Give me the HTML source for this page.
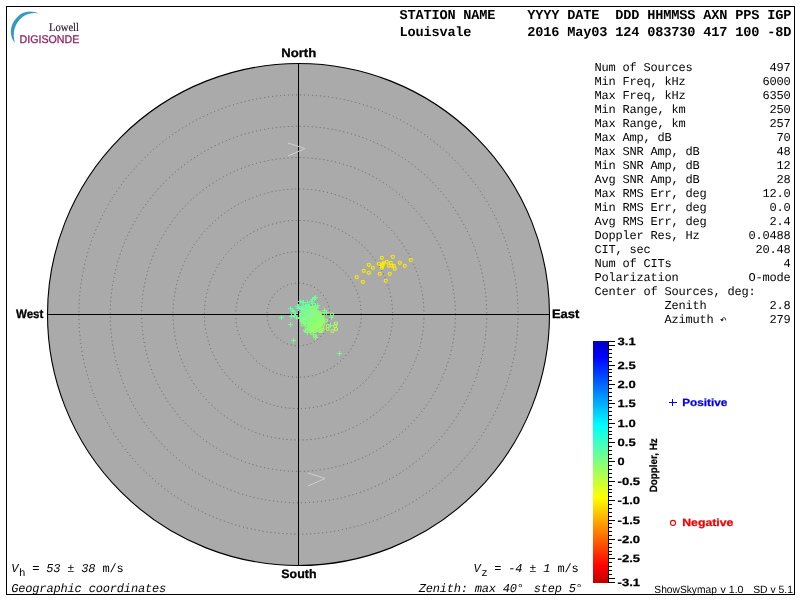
<!DOCTYPE html>
<html><head><meta charset="utf-8"><title>Skymap</title>
<style>html,body{margin:0;padding:0;background:#fff;overflow:hidden}svg{display:block;will-change:transform}
text{font-family:"Liberation Mono",monospace;fill:#000;text-rendering:geometricPrecision}
.hb{font-weight:bold;font-size:13.6px;letter-spacing:-0.16px}
.tb{font-size:12px;letter-spacing:-0.2px}
.it{font-size:12px;letter-spacing:-0.2px;font-style:italic}
.lab{font-family:"Liberation Sans",sans-serif;font-weight:bold;font-size:12.3px;stroke:#000;stroke-width:0.3px}
.cb{font-family:"Liberation Sans",sans-serif;font-weight:bold;font-size:10.5px;stroke:#000;stroke-width:0.25px}
.sm{font-family:"Liberation Sans",sans-serif;font-size:10.5px}
</style></head><body>
<svg width="800" height="600" viewBox="0 0 800 600">
<rect x="0" y="0" width="800" height="600" fill="#fff"/>
<rect x="6.5" y="6.5" width="788" height="588" fill="none" stroke="#000" stroke-width="1"/>
<g id="logo">
<path d="M38.9 13.3 L34.5 12.1 L29.8 11.6 L26 12 L22.8 13 L19.8 14.8 L17.2 17.2 L14.8 20 L13 22.8 L11.6 26.3 L10.9 29.8 L10.9 32.8 L11.25 35.4 L12 38 L13 40.3 L14.75 42.8 L13.7 36.1 L14.05 31.2 L14.7 28.2 L15.8 25.6 L17.3 22.7 L19.3 20 L21.3 17.9 L23.5 16.2 L26.2 14.8 L29.1 13.7 L34 13 Z" fill="#3399c4"/>
<text x="49" y="31.3" style="font-family:'Liberation Serif',serif;font-size:11.6px;fill:#2c1c2a;stroke:#2c1c2a;stroke-width:0.2px" textLength="30" lengthAdjust="spacingAndGlyphs">Lowell</text>
<text x="19.6" y="43.3" style="font-family:'Liberation Sans',sans-serif;font-size:11.2px;fill:#942463;stroke:#942463;stroke-width:0.3px" textLength="59.7" lengthAdjust="spacingAndGlyphs">DIGISONDE</text>
</g>
<circle cx="298.5" cy="314.5" r="251.0" fill="#aaaaaa" stroke="#000" stroke-width="1.1"/>
<circle cx="298.5" cy="314.5" r="31.38" fill="none" stroke="#626262" stroke-width="1" stroke-dasharray="1 3"/>
<circle cx="298.5" cy="314.5" r="62.75" fill="none" stroke="#626262" stroke-width="1" stroke-dasharray="1 3"/>
<circle cx="298.5" cy="314.5" r="94.12" fill="none" stroke="#626262" stroke-width="1" stroke-dasharray="1 3"/>
<circle cx="298.5" cy="314.5" r="125.50" fill="none" stroke="#626262" stroke-width="1" stroke-dasharray="1 3"/>
<circle cx="298.5" cy="314.5" r="156.88" fill="none" stroke="#626262" stroke-width="1" stroke-dasharray="1 3"/>
<circle cx="298.5" cy="314.5" r="188.25" fill="none" stroke="#626262" stroke-width="1" stroke-dasharray="1 3"/>
<circle cx="298.5" cy="314.5" r="219.62" fill="none" stroke="#626262" stroke-width="1" stroke-dasharray="1 3"/>
<line x1="47" y1="314.5" x2="550" y2="314.5" stroke="#000" stroke-width="1" shape-rendering="crispEdges"/>
<line x1="298.5" y1="63" x2="298.5" y2="566" stroke="#000" stroke-width="1" shape-rendering="crispEdges"/>
<circle cx="317.0" cy="330.0" r="1.55" fill="none" stroke="#a1ff5f" stroke-width="1.1"/>
<circle cx="320.5" cy="321.0" r="1.55" fill="none" stroke="#86ff7a" stroke-width="1.1"/>
<circle cx="312.0" cy="320.5" r="1.55" fill="none" stroke="#84ff7c" stroke-width="1.1"/>
<path d="M304 311.5h5M306.5 309v5" stroke="#75ff8b" fill="none" shape-rendering="crispEdges"/>
<circle cx="310.5" cy="309.0" r="1.55" fill="none" stroke="#83ff7d" stroke-width="1.1"/>
<path d="M303 319.5h5M305.5 317v5" stroke="#76ff8a" fill="none" shape-rendering="crispEdges"/>
<circle cx="321.0" cy="323.0" r="1.55" fill="none" stroke="#90ff70" stroke-width="1.1"/>
<path d="M303 307.5h5M305.5 305v5" stroke="#72ff8e" fill="none" shape-rendering="crispEdges"/>
<circle cx="319.0" cy="313.0" r="1.55" fill="none" stroke="#85ff7b" stroke-width="1.1"/>
<circle cx="316.5" cy="314.0" r="1.55" fill="none" stroke="#82ff7e" stroke-width="1.1"/>
<circle cx="313.5" cy="318.5" r="1.55" fill="none" stroke="#84ff7c" stroke-width="1.1"/>
<circle cx="322.0" cy="322.0" r="1.55" fill="none" stroke="#8dff73" stroke-width="1.1"/>
<circle cx="317.5" cy="316.0" r="1.55" fill="none" stroke="#8dff73" stroke-width="1.1"/>
<circle cx="319.0" cy="322.5" r="1.55" fill="none" stroke="#96ff6a" stroke-width="1.1"/>
<path d="M299 314.5h5M301.5 312v5" stroke="#6dff92" fill="none" shape-rendering="crispEdges"/>
<path d="M301 313.5h5M303.5 311v5" stroke="#74ff8c" fill="none" shape-rendering="crispEdges"/>
<circle cx="332.0" cy="314.5" r="1.55" fill="none" stroke="#9eff62" stroke-width="1.1"/>
<path d="M304 306.5h5M306.5 304v5" stroke="#6cff94" fill="none" shape-rendering="crispEdges"/>
<circle cx="308.0" cy="321.5" r="1.55" fill="none" stroke="#81ff7f" stroke-width="1.1"/>
<path d="M302 309.5h5M304.5 307v5" stroke="#6bff95" fill="none" shape-rendering="crispEdges"/>
<circle cx="314.5" cy="311.5" r="1.55" fill="none" stroke="#82ff7e" stroke-width="1.1"/>
<circle cx="317.5" cy="315.0" r="1.55" fill="none" stroke="#8bff75" stroke-width="1.1"/>
<path d="M301 302.5h5M303.5 300v5" stroke="#62ff9e" fill="none" shape-rendering="crispEdges"/>
<path d="M310 303.5h5M312.5 301v5" stroke="#68ff98" fill="none" shape-rendering="crispEdges"/>
<path d="M306 318.5h5M308.5 316v5" stroke="#7cff84" fill="none" shape-rendering="crispEdges"/>
<circle cx="309.5" cy="325.0" r="1.55" fill="none" stroke="#89ff77" stroke-width="1.1"/>
<circle cx="311.0" cy="328.5" r="1.55" fill="none" stroke="#98ff68" stroke-width="1.1"/>
<path d="M306 306.5h5M308.5 304v5" stroke="#6dff93" fill="none" shape-rendering="crispEdges"/>
<circle cx="323.5" cy="320.0" r="1.55" fill="none" stroke="#98ff68" stroke-width="1.1"/>
<circle cx="314.0" cy="317.5" r="1.55" fill="none" stroke="#88ff77" stroke-width="1.1"/>
<circle cx="322.5" cy="329.5" r="1.55" fill="none" stroke="#a3ff5c" stroke-width="1.1"/>
<circle cx="316.0" cy="315.5" r="1.55" fill="none" stroke="#83ff7d" stroke-width="1.1"/>
<circle cx="310.5" cy="322.0" r="1.55" fill="none" stroke="#85ff7b" stroke-width="1.1"/>
<path d="M313 297.5h5M315.5 295v5" stroke="#69ff96" fill="none" shape-rendering="crispEdges"/>
<circle cx="314.0" cy="315.0" r="1.55" fill="none" stroke="#84ff7c" stroke-width="1.1"/>
<circle cx="312.5" cy="322.0" r="1.55" fill="none" stroke="#8bff75" stroke-width="1.1"/>
<path d="M310 306.5h5M312.5 304v5" stroke="#78ff88" fill="none" shape-rendering="crispEdges"/>
<path d="M296 306.5h5M298.5 304v5" stroke="#5fffa0" fill="none" shape-rendering="crispEdges"/>
<path d="M309 314.5h5M311.5 312v5" stroke="#7eff82" fill="none" shape-rendering="crispEdges"/>
<circle cx="315.0" cy="322.0" r="1.55" fill="none" stroke="#93ff6c" stroke-width="1.1"/>
<path d="M311 310.5h5M313.5 308v5" stroke="#7aff86" fill="none" shape-rendering="crispEdges"/>
<path d="M305 317.5h5M307.5 315v5" stroke="#80ff80" fill="none" shape-rendering="crispEdges"/>
<path d="M291 311.5h5M293.5 309v5" stroke="#61ff9f" fill="none" shape-rendering="crispEdges"/>
<path d="M293 313.5h5M295.5 311v5" stroke="#65ff9b" fill="none" shape-rendering="crispEdges"/>
<circle cx="312.5" cy="319.5" r="1.55" fill="none" stroke="#86ff7a" stroke-width="1.1"/>
<circle cx="313.5" cy="318.0" r="1.55" fill="none" stroke="#83ff7d" stroke-width="1.1"/>
<circle cx="311.0" cy="316.0" r="1.55" fill="none" stroke="#81ff7f" stroke-width="1.1"/>
<path d="M311 315.5h5M313.5 313v5" stroke="#7bff85" fill="none" shape-rendering="crispEdges"/>
<circle cx="314.5" cy="320.5" r="1.55" fill="none" stroke="#8fff71" stroke-width="1.1"/>
<circle cx="311.5" cy="326.0" r="1.55" fill="none" stroke="#8dff73" stroke-width="1.1"/>
<path d="M314 307.5h5M316.5 305v5" stroke="#7aff86" fill="none" shape-rendering="crispEdges"/>
<path d="M308 314.5h5M310.5 312v5" stroke="#77ff89" fill="none" shape-rendering="crispEdges"/>
<circle cx="335.0" cy="326.0" r="1.55" fill="none" stroke="#b0ff50" stroke-width="1.1"/>
<circle cx="312.0" cy="326.0" r="1.55" fill="none" stroke="#8bff75" stroke-width="1.1"/>
<path d="M306 308.5h5M308.5 306v5" stroke="#76ff8a" fill="none" shape-rendering="crispEdges"/>
<path d="M300 309.5h5M302.5 307v5" stroke="#6eff92" fill="none" shape-rendering="crispEdges"/>
<circle cx="314.0" cy="321.5" r="1.55" fill="none" stroke="#8bff75" stroke-width="1.1"/>
<circle cx="318.5" cy="314.5" r="1.55" fill="none" stroke="#88ff78" stroke-width="1.1"/>
<circle cx="315.5" cy="313.0" r="1.55" fill="none" stroke="#83ff7d" stroke-width="1.1"/>
<path d="M311 314.5h5M313.5 312v5" stroke="#7eff82" fill="none" shape-rendering="crispEdges"/>
<path d="M312 307.5h5M314.5 305v5" stroke="#77ff89" fill="none" shape-rendering="crispEdges"/>
<circle cx="323.5" cy="324.0" r="1.55" fill="none" stroke="#9aff66" stroke-width="1.1"/>
<circle cx="321.0" cy="322.5" r="1.55" fill="none" stroke="#98ff68" stroke-width="1.1"/>
<circle cx="312.5" cy="317.5" r="1.55" fill="none" stroke="#87ff79" stroke-width="1.1"/>
<circle cx="308.5" cy="320.5" r="1.55" fill="none" stroke="#82ff7e" stroke-width="1.1"/>
<circle cx="313.0" cy="319.5" r="1.55" fill="none" stroke="#8bff75" stroke-width="1.1"/>
<path d="M309 312.5h5M311.5 310v5" stroke="#7bff85" fill="none" shape-rendering="crispEdges"/>
<circle cx="315.0" cy="315.0" r="1.55" fill="none" stroke="#81ff7f" stroke-width="1.1"/>
<circle cx="310.5" cy="318.0" r="1.55" fill="none" stroke="#81ff7f" stroke-width="1.1"/>
<path d="M288 324.5h5M290.5 322v5" stroke="#6dff93" fill="none" shape-rendering="crispEdges"/>
<path d="M299 315.5h5M301.5 313v5" stroke="#77ff89" fill="none" shape-rendering="crispEdges"/>
<path d="M306 315.5h5M308.5 313v5" stroke="#80ff80" fill="none" shape-rendering="crispEdges"/>
<circle cx="321.0" cy="319.5" r="1.55" fill="none" stroke="#96ff69" stroke-width="1.1"/>
<circle cx="314.5" cy="325.0" r="1.55" fill="none" stroke="#8fff71" stroke-width="1.1"/>
<circle cx="328.0" cy="326.0" r="1.55" fill="none" stroke="#a7ff58" stroke-width="1.1"/>
<path d="M305 318.5h5M307.5 316v5" stroke="#7dff83" fill="none" shape-rendering="crispEdges"/>
<circle cx="313.0" cy="312.0" r="1.55" fill="none" stroke="#88ff78" stroke-width="1.1"/>
<path d="M306 318.5h5M308.5 316v5" stroke="#7bff85" fill="none" shape-rendering="crispEdges"/>
<path d="M302 322.5h5M304.5 320v5" stroke="#79ff87" fill="none" shape-rendering="crispEdges"/>
<circle cx="315.5" cy="311.5" r="1.55" fill="none" stroke="#83ff7d" stroke-width="1.1"/>
<path d="M305 302.5h5M307.5 300v5" stroke="#64ff9c" fill="none" shape-rendering="crispEdges"/>
<path d="M298 301.5h5M300.5 299v5" stroke="#5dffa2" fill="none" shape-rendering="crispEdges"/>
<circle cx="312.5" cy="313.0" r="1.55" fill="none" stroke="#80ff80" stroke-width="1.1"/>
<circle cx="314.0" cy="314.5" r="1.55" fill="none" stroke="#86ff7a" stroke-width="1.1"/>
<path d="M298 317.5h5M300.5 315v5" stroke="#70ff90" fill="none" shape-rendering="crispEdges"/>
<circle cx="319.5" cy="317.0" r="1.55" fill="none" stroke="#8eff72" stroke-width="1.1"/>
<path d="M299 315.5h5M301.5 313v5" stroke="#76ff8a" fill="none" shape-rendering="crispEdges"/>
<path d="M308 316.5h5M310.5 314v5" stroke="#7eff82" fill="none" shape-rendering="crispEdges"/>
<circle cx="313.0" cy="317.5" r="1.55" fill="none" stroke="#85ff7b" stroke-width="1.1"/>
<circle cx="306.0" cy="331.0" r="1.55" fill="none" stroke="#93ff6d" stroke-width="1.1"/>
<circle cx="317.5" cy="323.5" r="1.55" fill="none" stroke="#99ff67" stroke-width="1.1"/>
<circle cx="311.5" cy="329.0" r="1.55" fill="none" stroke="#93ff6d" stroke-width="1.1"/>
<circle cx="320.0" cy="331.0" r="1.55" fill="none" stroke="#9bff65" stroke-width="1.1"/>
<circle cx="302.0" cy="321.5" r="1.55" fill="none" stroke="#8aff76" stroke-width="1.1"/>
<circle cx="310.5" cy="317.0" r="1.55" fill="none" stroke="#8dff73" stroke-width="1.1"/>
<path d="M306 316.5h5M308.5 314v5" stroke="#7dff83" fill="none" shape-rendering="crispEdges"/>
<circle cx="309.0" cy="315.0" r="1.55" fill="none" stroke="#80ff80" stroke-width="1.1"/>
<path d="M303 310.5h5M305.5 308v5" stroke="#72ff8e" fill="none" shape-rendering="crispEdges"/>
<circle cx="315.5" cy="316.5" r="1.55" fill="none" stroke="#85ff7b" stroke-width="1.1"/>
<path d="M302 318.5h5M304.5 316v5" stroke="#76ff8a" fill="none" shape-rendering="crispEdges"/>
<path d="M313 311.5h5M315.5 309v5" stroke="#78ff88" fill="none" shape-rendering="crispEdges"/>
<path d="M307 315.5h5M309.5 313v5" stroke="#79ff87" fill="none" shape-rendering="crispEdges"/>
<circle cx="314.5" cy="322.0" r="1.55" fill="none" stroke="#8bff75" stroke-width="1.1"/>
<circle cx="308.0" cy="317.5" r="1.55" fill="none" stroke="#82ff7e" stroke-width="1.1"/>
<circle cx="313.5" cy="311.0" r="1.55" fill="none" stroke="#83ff7d" stroke-width="1.1"/>
<circle cx="315.0" cy="318.0" r="1.55" fill="none" stroke="#84ff7c" stroke-width="1.1"/>
<circle cx="323.0" cy="314.0" r="1.55" fill="none" stroke="#97ff69" stroke-width="1.1"/>
<circle cx="327.5" cy="329.0" r="1.55" fill="none" stroke="#aaff55" stroke-width="1.1"/>
<circle cx="315.0" cy="330.5" r="1.55" fill="none" stroke="#96ff6a" stroke-width="1.1"/>
<path d="M308 314.5h5M310.5 312v5" stroke="#7dff83" fill="none" shape-rendering="crispEdges"/>
<path d="M302 317.5h5M304.5 315v5" stroke="#6dff92" fill="none" shape-rendering="crispEdges"/>
<path d="M311 314.5h5M313.5 312v5" stroke="#7cff84" fill="none" shape-rendering="crispEdges"/>
<path d="M307 315.5h5M309.5 313v5" stroke="#78ff88" fill="none" shape-rendering="crispEdges"/>
<path d="M307 313.5h5M309.5 311v5" stroke="#7aff86" fill="none" shape-rendering="crispEdges"/>
<circle cx="311.5" cy="317.0" r="1.55" fill="none" stroke="#84ff7c" stroke-width="1.1"/>
<path d="M307 318.5h5M309.5 316v5" stroke="#7fff81" fill="none" shape-rendering="crispEdges"/>
<circle cx="316.0" cy="324.5" r="1.55" fill="none" stroke="#91ff6f" stroke-width="1.1"/>
<circle cx="316.5" cy="323.5" r="1.55" fill="none" stroke="#93ff6d" stroke-width="1.1"/>
<circle cx="315.0" cy="322.5" r="1.55" fill="none" stroke="#81ff7f" stroke-width="1.1"/>
<circle cx="309.0" cy="322.0" r="1.55" fill="none" stroke="#8dff72" stroke-width="1.1"/>
<path d="M308 319.5h5M310.5 317v5" stroke="#7dff83" fill="none" shape-rendering="crispEdges"/>
<circle cx="315.5" cy="319.5" r="1.55" fill="none" stroke="#91ff6f" stroke-width="1.1"/>
<circle cx="312.0" cy="314.5" r="1.55" fill="none" stroke="#8aff76" stroke-width="1.1"/>
<path d="M304 317.5h5M306.5 315v5" stroke="#7fff81" fill="none" shape-rendering="crispEdges"/>
<circle cx="319.5" cy="313.0" r="1.55" fill="none" stroke="#87ff79" stroke-width="1.1"/>
<path d="M306 318.5h5M308.5 316v5" stroke="#7eff82" fill="none" shape-rendering="crispEdges"/>
<path d="M313 337.5h5M315.5 335v5" stroke="#76ff8a" fill="none" shape-rendering="crispEdges"/>
<circle cx="315.5" cy="320.5" r="1.55" fill="none" stroke="#90ff70" stroke-width="1.1"/>
<circle cx="311.0" cy="320.5" r="1.55" fill="none" stroke="#83ff7d" stroke-width="1.1"/>
<path d="M295 306.5h5M297.5 304v5" stroke="#5fffa0" fill="none" shape-rendering="crispEdges"/>
<circle cx="320.0" cy="321.5" r="1.55" fill="none" stroke="#93ff6d" stroke-width="1.1"/>
<path d="M312 298.5h5M314.5 296v5" stroke="#69ff96" fill="none" shape-rendering="crispEdges"/>
<path d="M310 299.5h5M312.5 297v5" stroke="#69ff96" fill="none" shape-rendering="crispEdges"/>
<path d="M309 315.5h5M311.5 313v5" stroke="#7eff82" fill="none" shape-rendering="crispEdges"/>
<path d="M292 315.5h5M294.5 313v5" stroke="#6dff93" fill="none" shape-rendering="crispEdges"/>
<circle cx="315.5" cy="322.5" r="1.55" fill="none" stroke="#80ff80" stroke-width="1.1"/>
<circle cx="309.5" cy="319.5" r="1.55" fill="none" stroke="#88ff78" stroke-width="1.1"/>
<circle cx="313.0" cy="324.0" r="1.55" fill="none" stroke="#90ff70" stroke-width="1.1"/>
<circle cx="312.5" cy="314.5" r="1.55" fill="none" stroke="#84ff7c" stroke-width="1.1"/>
<path d="M288 308.5h5M290.5 306v5" stroke="#5affa6" fill="none" shape-rendering="crispEdges"/>
<circle cx="312.0" cy="333.0" r="1.55" fill="none" stroke="#9dff63" stroke-width="1.1"/>
<circle cx="319.5" cy="323.5" r="1.55" fill="none" stroke="#95ff6b" stroke-width="1.1"/>
<circle cx="321.0" cy="319.0" r="1.55" fill="none" stroke="#96ff6a" stroke-width="1.1"/>
<path d="M304 312.5h5M306.5 310v5" stroke="#70ff90" fill="none" shape-rendering="crispEdges"/>
<path d="M306 311.5h5M308.5 309v5" stroke="#7aff86" fill="none" shape-rendering="crispEdges"/>
<circle cx="311.5" cy="318.0" r="1.55" fill="none" stroke="#89ff76" stroke-width="1.1"/>
<circle cx="315.0" cy="318.5" r="1.55" fill="none" stroke="#89ff77" stroke-width="1.1"/>
<circle cx="314.0" cy="317.0" r="1.55" fill="none" stroke="#85ff7b" stroke-width="1.1"/>
<path d="M307 306.5h5M309.5 304v5" stroke="#79ff87" fill="none" shape-rendering="crispEdges"/>
<circle cx="317.0" cy="321.5" r="1.55" fill="none" stroke="#92ff6e" stroke-width="1.1"/>
<circle cx="312.0" cy="320.0" r="1.55" fill="none" stroke="#87ff79" stroke-width="1.1"/>
<circle cx="313.0" cy="320.0" r="1.55" fill="none" stroke="#87ff79" stroke-width="1.1"/>
<path d="M305 318.5h5M307.5 316v5" stroke="#7fff81" fill="none" shape-rendering="crispEdges"/>
<circle cx="311.0" cy="316.5" r="1.55" fill="none" stroke="#85ff7a" stroke-width="1.1"/>
<path d="M313 316.5h5M315.5 314v5" stroke="#7cff84" fill="none" shape-rendering="crispEdges"/>
<path d="M299 317.5h5M301.5 315v5" stroke="#76ff8a" fill="none" shape-rendering="crispEdges"/>
<circle cx="321.0" cy="323.5" r="1.55" fill="none" stroke="#96ff69" stroke-width="1.1"/>
<path d="M304 309.5h5M306.5 307v5" stroke="#6eff92" fill="none" shape-rendering="crispEdges"/>
<circle cx="315.5" cy="323.5" r="1.55" fill="none" stroke="#8eff72" stroke-width="1.1"/>
<circle cx="336.0" cy="329.0" r="1.55" fill="none" stroke="#b5ff4b" stroke-width="1.1"/>
<circle cx="322.0" cy="327.5" r="1.55" fill="none" stroke="#9eff62" stroke-width="1.1"/>
<circle cx="315.0" cy="336.0" r="1.55" fill="none" stroke="#a4ff5c" stroke-width="1.1"/>
<circle cx="311.5" cy="317.5" r="1.55" fill="none" stroke="#8cff74" stroke-width="1.1"/>
<circle cx="314.5" cy="321.0" r="1.55" fill="none" stroke="#8bff75" stroke-width="1.1"/>
<circle cx="310.0" cy="317.5" r="1.55" fill="none" stroke="#83ff7d" stroke-width="1.1"/>
<circle cx="316.0" cy="311.5" r="1.55" fill="none" stroke="#86ff7a" stroke-width="1.1"/>
<path d="M302 311.5h5M304.5 309v5" stroke="#70ff90" fill="none" shape-rendering="crispEdges"/>
<path d="M301 308.5h5M303.5 306v5" stroke="#6aff96" fill="none" shape-rendering="crispEdges"/>
<path d="M306 309.5h5M308.5 307v5" stroke="#6dff93" fill="none" shape-rendering="crispEdges"/>
<circle cx="314.0" cy="327.0" r="1.55" fill="none" stroke="#8fff71" stroke-width="1.1"/>
<circle cx="315.5" cy="320.0" r="1.55" fill="none" stroke="#8bff75" stroke-width="1.1"/>
<path d="M304 319.5h5M306.5 317v5" stroke="#7cff84" fill="none" shape-rendering="crispEdges"/>
<circle cx="307.0" cy="329.5" r="1.55" fill="none" stroke="#82ff7e" stroke-width="1.1"/>
<path d="M304 311.5h5M306.5 309v5" stroke="#71ff8f" fill="none" shape-rendering="crispEdges"/>
<circle cx="312.0" cy="321.5" r="1.55" fill="none" stroke="#8bff75" stroke-width="1.1"/>
<path d="M303 310.5h5M305.5 308v5" stroke="#6eff92" fill="none" shape-rendering="crispEdges"/>
<circle cx="321.5" cy="321.0" r="1.55" fill="none" stroke="#94ff6c" stroke-width="1.1"/>
<path d="M306 313.5h5M308.5 311v5" stroke="#7aff86" fill="none" shape-rendering="crispEdges"/>
<path d="M299 307.5h5M301.5 305v5" stroke="#6cff94" fill="none" shape-rendering="crispEdges"/>
<circle cx="319.0" cy="326.0" r="1.55" fill="none" stroke="#8eff72" stroke-width="1.1"/>
<path d="M303 305.5h5M305.5 303v5" stroke="#6bff95" fill="none" shape-rendering="crispEdges"/>
<path d="M291 340.5h5M293.5 338v5" stroke="#76ff8a" fill="none" shape-rendering="crispEdges"/>
<path d="M305 315.5h5M307.5 313v5" stroke="#7eff82" fill="none" shape-rendering="crispEdges"/>
<circle cx="318.0" cy="319.5" r="1.55" fill="none" stroke="#8eff72" stroke-width="1.1"/>
<circle cx="316.5" cy="313.5" r="1.55" fill="none" stroke="#82ff7e" stroke-width="1.1"/>
<circle cx="309.5" cy="325.5" r="1.55" fill="none" stroke="#8aff76" stroke-width="1.1"/>
<path d="M306 318.5h5M308.5 316v5" stroke="#7bff85" fill="none" shape-rendering="crispEdges"/>
<circle cx="319.5" cy="325.0" r="1.55" fill="none" stroke="#97ff69" stroke-width="1.1"/>
<circle cx="314.0" cy="319.5" r="1.55" fill="none" stroke="#85ff7b" stroke-width="1.1"/>
<path d="M305 312.5h5M307.5 310v5" stroke="#75ff8b" fill="none" shape-rendering="crispEdges"/>
<circle cx="312.5" cy="323.5" r="1.55" fill="none" stroke="#8dff73" stroke-width="1.1"/>
<path d="M299 308.5h5M301.5 306v5" stroke="#6dff93" fill="none" shape-rendering="crispEdges"/>
<path d="M302 314.5h5M304.5 312v5" stroke="#7dff83" fill="none" shape-rendering="crispEdges"/>
<circle cx="316.5" cy="321.0" r="1.55" fill="none" stroke="#8aff75" stroke-width="1.1"/>
<path d="M306 313.5h5M308.5 311v5" stroke="#78ff88" fill="none" shape-rendering="crispEdges"/>
<path d="M301 311.5h5M303.5 309v5" stroke="#70ff90" fill="none" shape-rendering="crispEdges"/>
<path d="M309 317.5h5M311.5 315v5" stroke="#7cff84" fill="none" shape-rendering="crispEdges"/>
<path d="M302 310.5h5M304.5 308v5" stroke="#72ff8d" fill="none" shape-rendering="crispEdges"/>
<path d="M300 315.5h5M302.5 313v5" stroke="#74ff8c" fill="none" shape-rendering="crispEdges"/>
<circle cx="315.5" cy="321.5" r="1.55" fill="none" stroke="#8eff72" stroke-width="1.1"/>
<circle cx="311.0" cy="321.0" r="1.55" fill="none" stroke="#8bff75" stroke-width="1.1"/>
<circle cx="315.0" cy="320.5" r="1.55" fill="none" stroke="#92ff6e" stroke-width="1.1"/>
<path d="M302 323.5h5M304.5 321v5" stroke="#76ff8a" fill="none" shape-rendering="crispEdges"/>
<path d="M311 308.5h5M313.5 306v5" stroke="#79ff87" fill="none" shape-rendering="crispEdges"/>
<circle cx="317.0" cy="317.0" r="1.55" fill="none" stroke="#83ff7d" stroke-width="1.1"/>
<circle cx="318.0" cy="318.5" r="1.55" fill="none" stroke="#86ff7a" stroke-width="1.1"/>
<circle cx="308.5" cy="322.5" r="1.55" fill="none" stroke="#84ff7b" stroke-width="1.1"/>
<circle cx="310.0" cy="323.5" r="1.55" fill="none" stroke="#91ff6f" stroke-width="1.1"/>
<circle cx="313.5" cy="316.5" r="1.55" fill="none" stroke="#84ff7c" stroke-width="1.1"/>
<path d="M303 318.5h5M305.5 316v5" stroke="#7dff83" fill="none" shape-rendering="crispEdges"/>
<path d="M301 318.5h5M303.5 316v5" stroke="#7fff81" fill="none" shape-rendering="crispEdges"/>
<circle cx="313.5" cy="314.0" r="1.55" fill="none" stroke="#81ff7f" stroke-width="1.1"/>
<path d="M337 353.5h5M339.5 351v5" stroke="#76ff8a" fill="none" shape-rendering="crispEdges"/>
<circle cx="313.5" cy="320.5" r="1.55" fill="none" stroke="#89ff77" stroke-width="1.1"/>
<path d="M302 308.5h5M304.5 306v5" stroke="#6fff91" fill="none" shape-rendering="crispEdges"/>
<circle cx="309.0" cy="318.0" r="1.55" fill="none" stroke="#80ff80" stroke-width="1.1"/>
<path d="M301 316.5h5M303.5 314v5" stroke="#74ff8c" fill="none" shape-rendering="crispEdges"/>
<circle cx="317.0" cy="313.5" r="1.55" fill="none" stroke="#88ff78" stroke-width="1.1"/>
<path d="M306 313.5h5M308.5 311v5" stroke="#79ff87" fill="none" shape-rendering="crispEdges"/>
<circle cx="308.5" cy="323.0" r="1.55" fill="none" stroke="#87ff79" stroke-width="1.1"/>
<path d="M304 315.5h5M306.5 313v5" stroke="#7cff84" fill="none" shape-rendering="crispEdges"/>
<path d="M307 315.5h5M309.5 313v5" stroke="#7eff82" fill="none" shape-rendering="crispEdges"/>
<circle cx="317.5" cy="318.0" r="1.55" fill="none" stroke="#8dff73" stroke-width="1.1"/>
<circle cx="317.5" cy="316.0" r="1.55" fill="none" stroke="#85ff7b" stroke-width="1.1"/>
<path d="M308 313.5h5M310.5 311v5" stroke="#7eff82" fill="none" shape-rendering="crispEdges"/>
<path d="M304 311.5h5M306.5 309v5" stroke="#6eff92" fill="none" shape-rendering="crispEdges"/>
<path d="M300 313.5h5M302.5 311v5" stroke="#76ff8a" fill="none" shape-rendering="crispEdges"/>
<path d="M306 310.5h5M308.5 308v5" stroke="#75ff8b" fill="none" shape-rendering="crispEdges"/>
<path d="M310 319.5h5M312.5 317v5" stroke="#7fff81" fill="none" shape-rendering="crispEdges"/>
<circle cx="313.5" cy="320.5" r="1.55" fill="none" stroke="#87ff79" stroke-width="1.1"/>
<circle cx="319.5" cy="323.0" r="1.55" fill="none" stroke="#94ff6c" stroke-width="1.1"/>
<circle cx="309.0" cy="319.0" r="1.55" fill="none" stroke="#85ff7b" stroke-width="1.1"/>
<circle cx="318.5" cy="323.0" r="1.55" fill="none" stroke="#8eff72" stroke-width="1.1"/>
<circle cx="311.5" cy="317.0" r="1.55" fill="none" stroke="#88ff77" stroke-width="1.1"/>
<path d="M303 316.5h5M305.5 314v5" stroke="#7cff84" fill="none" shape-rendering="crispEdges"/>
<circle cx="315.0" cy="316.0" r="1.55" fill="none" stroke="#83ff7d" stroke-width="1.1"/>
<path d="M301 317.5h5M303.5 315v5" stroke="#79ff87" fill="none" shape-rendering="crispEdges"/>
<circle cx="317.5" cy="314.0" r="1.55" fill="none" stroke="#8bff74" stroke-width="1.1"/>
<path d="M306 312.5h5M308.5 310v5" stroke="#77ff89" fill="none" shape-rendering="crispEdges"/>
<path d="M304 314.5h5M306.5 312v5" stroke="#7cff84" fill="none" shape-rendering="crispEdges"/>
<path d="M314 307.5h5M316.5 305v5" stroke="#79ff87" fill="none" shape-rendering="crispEdges"/>
<path d="M309 314.5h5M311.5 312v5" stroke="#80ff80" fill="none" shape-rendering="crispEdges"/>
<circle cx="310.5" cy="317.0" r="1.55" fill="none" stroke="#81ff7f" stroke-width="1.1"/>
<circle cx="313.5" cy="316.5" r="1.55" fill="none" stroke="#84ff7c" stroke-width="1.1"/>
<circle cx="308.5" cy="317.0" r="1.55" fill="none" stroke="#80ff80" stroke-width="1.1"/>
<circle cx="318.5" cy="314.0" r="1.55" fill="none" stroke="#85ff7b" stroke-width="1.1"/>
<path d="M308 315.5h5M310.5 313v5" stroke="#7eff82" fill="none" shape-rendering="crispEdges"/>
<path d="M303 330.5h5M305.5 328v5" stroke="#76ff8a" fill="none" shape-rendering="crispEdges"/>
<path d="M294 317.5h5M296.5 315v5" stroke="#6cff94" fill="none" shape-rendering="crispEdges"/>
<circle cx="320.5" cy="330.0" r="1.55" fill="none" stroke="#a0ff5f" stroke-width="1.1"/>
<path d="M309 308.5h5M311.5 306v5" stroke="#73ff8d" fill="none" shape-rendering="crispEdges"/>
<path d="M309 315.5h5M311.5 313v5" stroke="#7cff84" fill="none" shape-rendering="crispEdges"/>
<path d="M302 309.5h5M304.5 307v5" stroke="#77ff89" fill="none" shape-rendering="crispEdges"/>
<circle cx="317.5" cy="319.0" r="1.55" fill="none" stroke="#8eff72" stroke-width="1.1"/>
<circle cx="314.0" cy="322.5" r="1.55" fill="none" stroke="#91ff6f" stroke-width="1.1"/>
<circle cx="318.0" cy="325.5" r="1.55" fill="none" stroke="#96ff6a" stroke-width="1.1"/>
<path d="M279 317.5h5M281.5 315v5" stroke="#5affa6" fill="none" shape-rendering="crispEdges"/>
<circle cx="311.0" cy="325.5" r="1.55" fill="none" stroke="#8aff76" stroke-width="1.1"/>
<circle cx="314.5" cy="317.0" r="1.55" fill="none" stroke="#87ff79" stroke-width="1.1"/>
<circle cx="309.5" cy="318.5" r="1.55" fill="none" stroke="#8cff74" stroke-width="1.1"/>
<circle cx="311.0" cy="322.5" r="1.55" fill="none" stroke="#86ff7a" stroke-width="1.1"/>
<path d="M310 317.5h5M312.5 315v5" stroke="#7cff84" fill="none" shape-rendering="crispEdges"/>
<circle cx="312.5" cy="325.0" r="1.55" fill="none" stroke="#94ff6c" stroke-width="1.1"/>
<circle cx="313.0" cy="318.0" r="1.55" fill="none" stroke="#8eff72" stroke-width="1.1"/>
<path d="M308 311.5h5M310.5 309v5" stroke="#7bff85" fill="none" shape-rendering="crispEdges"/>
<circle cx="309.0" cy="319.5" r="1.55" fill="none" stroke="#81ff7f" stroke-width="1.1"/>
<circle cx="315.5" cy="326.5" r="1.55" fill="none" stroke="#93ff6d" stroke-width="1.1"/>
<circle cx="316.5" cy="313.0" r="1.55" fill="none" stroke="#82ff7e" stroke-width="1.1"/>
<circle cx="306.5" cy="327.5" r="1.55" fill="none" stroke="#86ff7a" stroke-width="1.1"/>
<path d="M305 305.5h5M307.5 303v5" stroke="#66ff9a" fill="none" shape-rendering="crispEdges"/>
<circle cx="316.5" cy="318.5" r="1.55" fill="none" stroke="#92ff6e" stroke-width="1.1"/>
<circle cx="322.5" cy="317.5" r="1.55" fill="none" stroke="#98ff68" stroke-width="1.1"/>
<path d="M299 307.5h5M301.5 305v5" stroke="#69ff97" fill="none" shape-rendering="crispEdges"/>
<path d="M308 316.5h5M310.5 314v5" stroke="#7fff81" fill="none" shape-rendering="crispEdges"/>
<path d="M303 313.5h5M305.5 311v5" stroke="#7bff85" fill="none" shape-rendering="crispEdges"/>
<path d="M304 317.5h5M306.5 315v5" stroke="#73ff8d" fill="none" shape-rendering="crispEdges"/>
<circle cx="307.0" cy="313.0" r="1.55" fill="none" stroke="#81ff7f" stroke-width="1.1"/>
<circle cx="309.5" cy="319.5" r="1.55" fill="none" stroke="#82ff7e" stroke-width="1.1"/>
<circle cx="311.0" cy="317.0" r="1.55" fill="none" stroke="#82ff7e" stroke-width="1.1"/>
<path d="M305 317.5h5M307.5 315v5" stroke="#7bff85" fill="none" shape-rendering="crispEdges"/>
<path d="M306 309.5h5M308.5 307v5" stroke="#6eff92" fill="none" shape-rendering="crispEdges"/>
<circle cx="313.5" cy="326.5" r="1.55" fill="none" stroke="#94ff6c" stroke-width="1.1"/>
<path d="M301 315.5h5M303.5 313v5" stroke="#6cff94" fill="none" shape-rendering="crispEdges"/>
<path d="M304 316.5h5M306.5 314v5" stroke="#78ff88" fill="none" shape-rendering="crispEdges"/>
<circle cx="319.5" cy="328.5" r="1.55" fill="none" stroke="#96ff69" stroke-width="1.1"/>
<circle cx="314.0" cy="320.5" r="1.55" fill="none" stroke="#97ff69" stroke-width="1.1"/>
<circle cx="315.0" cy="320.0" r="1.55" fill="none" stroke="#8aff76" stroke-width="1.1"/>
<circle cx="316.5" cy="326.0" r="1.55" fill="none" stroke="#98ff68" stroke-width="1.1"/>
<circle cx="314.0" cy="313.5" r="1.55" fill="none" stroke="#81ff7f" stroke-width="1.1"/>
<path d="M300 320.5h5M302.5 318v5" stroke="#7dff83" fill="none" shape-rendering="crispEdges"/>
<circle cx="313.5" cy="315.0" r="1.55" fill="none" stroke="#82ff7e" stroke-width="1.1"/>
<path d="M304 307.5h5M306.5 305v5" stroke="#77ff89" fill="none" shape-rendering="crispEdges"/>
<circle cx="316.0" cy="322.0" r="1.55" fill="none" stroke="#8dff73" stroke-width="1.1"/>
<circle cx="313.5" cy="321.0" r="1.55" fill="none" stroke="#95ff6b" stroke-width="1.1"/>
<path d="M313 305.5h5M315.5 303v5" stroke="#72ff8d" fill="none" shape-rendering="crispEdges"/>
<circle cx="318.0" cy="321.0" r="1.55" fill="none" stroke="#91ff6f" stroke-width="1.1"/>
<circle cx="312.0" cy="327.0" r="1.55" fill="none" stroke="#8eff72" stroke-width="1.1"/>
<circle cx="311.5" cy="329.5" r="1.55" fill="none" stroke="#92ff6e" stroke-width="1.1"/>
<circle cx="320.5" cy="320.0" r="1.55" fill="none" stroke="#91ff6f" stroke-width="1.1"/>
<circle cx="310.0" cy="312.0" r="1.55" fill="none" stroke="#81ff7e" stroke-width="1.1"/>
<circle cx="313.5" cy="317.0" r="1.55" fill="none" stroke="#89ff77" stroke-width="1.1"/>
<circle cx="313.0" cy="320.0" r="1.55" fill="none" stroke="#86ff7a" stroke-width="1.1"/>
<circle cx="318.0" cy="314.5" r="1.55" fill="none" stroke="#8bff74" stroke-width="1.1"/>
<circle cx="315.0" cy="315.5" r="1.55" fill="none" stroke="#85ff7b" stroke-width="1.1"/>
<circle cx="317.0" cy="327.0" r="1.55" fill="none" stroke="#98ff68" stroke-width="1.1"/>
<circle cx="312.5" cy="327.5" r="1.55" fill="none" stroke="#8dff73" stroke-width="1.1"/>
<path d="M304 318.5h5M306.5 316v5" stroke="#7fff81" fill="none" shape-rendering="crispEdges"/>
<circle cx="302.5" cy="324.5" r="1.55" fill="none" stroke="#83ff7d" stroke-width="1.1"/>
<path d="M303 311.5h5M305.5 309v5" stroke="#71ff8f" fill="none" shape-rendering="crispEdges"/>
<path d="M311 314.5h5M313.5 312v5" stroke="#7cff83" fill="none" shape-rendering="crispEdges"/>
<circle cx="319.5" cy="326.0" r="1.55" fill="none" stroke="#95ff6b" stroke-width="1.1"/>
<circle cx="309.5" cy="323.0" r="1.55" fill="none" stroke="#85ff7b" stroke-width="1.1"/>
<circle cx="317.0" cy="320.5" r="1.55" fill="none" stroke="#91ff6f" stroke-width="1.1"/>
<circle cx="317.5" cy="312.0" r="1.55" fill="none" stroke="#8dff73" stroke-width="1.1"/>
<path d="M301 312.5h5M303.5 310v5" stroke="#6eff92" fill="none" shape-rendering="crispEdges"/>
<circle cx="313.0" cy="318.0" r="1.55" fill="none" stroke="#8cff74" stroke-width="1.1"/>
<circle cx="311.5" cy="324.5" r="1.55" fill="none" stroke="#8dff73" stroke-width="1.1"/>
<path d="M305 311.5h5M307.5 309v5" stroke="#74ff8c" fill="none" shape-rendering="crispEdges"/>
<path d="M307 312.5h5M309.5 310v5" stroke="#70ff90" fill="none" shape-rendering="crispEdges"/>
<circle cx="308.5" cy="324.0" r="1.55" fill="none" stroke="#90ff70" stroke-width="1.1"/>
<circle cx="312.5" cy="319.0" r="1.55" fill="none" stroke="#86ff7a" stroke-width="1.1"/>
<circle cx="310.5" cy="320.0" r="1.55" fill="none" stroke="#8fff71" stroke-width="1.1"/>
<circle cx="315.5" cy="320.5" r="1.55" fill="none" stroke="#8eff72" stroke-width="1.1"/>
<circle cx="309.0" cy="328.5" r="1.55" fill="none" stroke="#8aff76" stroke-width="1.1"/>
<path d="M301 311.5h5M303.5 309v5" stroke="#74ff8c" fill="none" shape-rendering="crispEdges"/>
<path d="M304 316.5h5M306.5 314v5" stroke="#7cff84" fill="none" shape-rendering="crispEdges"/>
<path d="M305 309.5h5M307.5 307v5" stroke="#68ff98" fill="none" shape-rendering="crispEdges"/>
<circle cx="326.0" cy="320.5" r="1.55" fill="none" stroke="#90ff6f" stroke-width="1.1"/>
<path d="M298 318.5h5M300.5 316v5" stroke="#78ff88" fill="none" shape-rendering="crispEdges"/>
<path d="M307 310.5h5M309.5 308v5" stroke="#7cff84" fill="none" shape-rendering="crispEdges"/>
<circle cx="310.5" cy="310.5" r="1.55" fill="none" stroke="#83ff7d" stroke-width="1.1"/>
<circle cx="332.5" cy="331.0" r="1.55" fill="none" stroke="#b3ff4d" stroke-width="1.1"/>
<path d="M303 308.5h5M305.5 306v5" stroke="#6dff92" fill="none" shape-rendering="crispEdges"/>
<path d="M307 312.5h5M309.5 310v5" stroke="#77ff89" fill="none" shape-rendering="crispEdges"/>
<circle cx="312.5" cy="330.5" r="1.55" fill="none" stroke="#95ff6b" stroke-width="1.1"/>
<path d="M306 314.5h5M308.5 312v5" stroke="#7cff84" fill="none" shape-rendering="crispEdges"/>
<circle cx="309.0" cy="319.5" r="1.55" fill="none" stroke="#87ff79" stroke-width="1.1"/>
<path d="M300 309.5h5M302.5 307v5" stroke="#71ff8e" fill="none" shape-rendering="crispEdges"/>
<circle cx="318.0" cy="314.0" r="1.55" fill="none" stroke="#82ff7e" stroke-width="1.1"/>
<circle cx="317.5" cy="324.0" r="1.55" fill="none" stroke="#95ff6b" stroke-width="1.1"/>
<circle cx="319.0" cy="314.0" r="1.55" fill="none" stroke="#89ff77" stroke-width="1.1"/>
<circle cx="309.5" cy="324.0" r="1.55" fill="none" stroke="#90ff6f" stroke-width="1.1"/>
<path d="M304 314.5h5M306.5 312v5" stroke="#78ff88" fill="none" shape-rendering="crispEdges"/>
<path d="M304 310.5h5M306.5 308v5" stroke="#7fff81" fill="none" shape-rendering="crispEdges"/>
<circle cx="322.0" cy="319.5" r="1.55" fill="none" stroke="#93ff6d" stroke-width="1.1"/>
<circle cx="318.0" cy="314.5" r="1.55" fill="none" stroke="#88ff78" stroke-width="1.1"/>
<circle cx="317.5" cy="320.5" r="1.55" fill="none" stroke="#97ff69" stroke-width="1.1"/>
<path d="M308 308.5h5M310.5 306v5" stroke="#71ff8f" fill="none" shape-rendering="crispEdges"/>
<path d="M303 318.5h5M305.5 316v5" stroke="#7dff82" fill="none" shape-rendering="crispEdges"/>
<circle cx="312.5" cy="323.0" r="1.55" fill="none" stroke="#8aff76" stroke-width="1.1"/>
<circle cx="315.5" cy="317.0" r="1.55" fill="none" stroke="#83ff7d" stroke-width="1.1"/>
<path d="M310 310.5h5M312.5 308v5" stroke="#7bff85" fill="none" shape-rendering="crispEdges"/>
<circle cx="310.5" cy="321.5" r="1.55" fill="none" stroke="#83ff7d" stroke-width="1.1"/>
<path d="M308 313.5h5M310.5 311v5" stroke="#7bff85" fill="none" shape-rendering="crispEdges"/>
<path d="M310 314.5h5M312.5 312v5" stroke="#80ff80" fill="none" shape-rendering="crispEdges"/>
<circle cx="311.5" cy="316.0" r="1.55" fill="none" stroke="#82ff7e" stroke-width="1.1"/>
<circle cx="317.5" cy="320.5" r="1.55" fill="none" stroke="#8aff76" stroke-width="1.1"/>
<circle cx="311.0" cy="324.5" r="1.55" fill="none" stroke="#93ff6d" stroke-width="1.1"/>
<path d="M317 330.5h5M319.5 328v5" stroke="#76ff8a" fill="none" shape-rendering="crispEdges"/>
<path d="M289 316.5h5M291.5 314v5" stroke="#64ff9b" fill="none" shape-rendering="crispEdges"/>
<circle cx="321.0" cy="317.5" r="1.55" fill="none" stroke="#88ff78" stroke-width="1.1"/>
<path d="M310 314.5h5M312.5 312v5" stroke="#7fff81" fill="none" shape-rendering="crispEdges"/>
<circle cx="311.5" cy="325.0" r="1.55" fill="none" stroke="#94ff6c" stroke-width="1.1"/>
<path d="M307 307.5h5M309.5 305v5" stroke="#79ff87" fill="none" shape-rendering="crispEdges"/>
<path d="M305 310.5h5M307.5 308v5" stroke="#70ff90" fill="none" shape-rendering="crispEdges"/>
<circle cx="310.5" cy="331.0" r="1.55" fill="none" stroke="#98ff68" stroke-width="1.1"/>
<path d="M307 312.5h5M309.5 310v5" stroke="#79ff87" fill="none" shape-rendering="crispEdges"/>
<circle cx="311.5" cy="319.5" r="1.55" fill="none" stroke="#83ff7c" stroke-width="1.1"/>
<path d="M307 313.5h5M309.5 311v5" stroke="#76ff8a" fill="none" shape-rendering="crispEdges"/>
<path d="M306 311.5h5M308.5 309v5" stroke="#7cff84" fill="none" shape-rendering="crispEdges"/>
<path d="M303 314.5h5M305.5 312v5" stroke="#76ff8a" fill="none" shape-rendering="crispEdges"/>
<path d="M311 334.5h5M313.5 332v5" stroke="#76ff8a" fill="none" shape-rendering="crispEdges"/>
<path d="M290 310.5h5M292.5 308v5" stroke="#5dffa2" fill="none" shape-rendering="crispEdges"/>
<circle cx="314.5" cy="316.5" r="1.55" fill="none" stroke="#81ff7f" stroke-width="1.1"/>
<circle cx="307.0" cy="318.5" r="1.55" fill="none" stroke="#81ff7f" stroke-width="1.1"/>
<circle cx="312.5" cy="327.5" r="1.55" fill="none" stroke="#93ff6d" stroke-width="1.1"/>
<path d="M300 309.5h5M302.5 307v5" stroke="#70ff90" fill="none" shape-rendering="crispEdges"/>
<circle cx="318.5" cy="322.0" r="1.55" fill="none" stroke="#8bff75" stroke-width="1.1"/>
<circle cx="317.0" cy="316.5" r="1.55" fill="none" stroke="#96ff6a" stroke-width="1.1"/>
<path d="M307 316.5h5M309.5 314v5" stroke="#7cff84" fill="none" shape-rendering="crispEdges"/>
<circle cx="310.5" cy="316.0" r="1.55" fill="none" stroke="#81ff7f" stroke-width="1.1"/>
<circle cx="318.0" cy="320.5" r="1.55" fill="none" stroke="#93ff6d" stroke-width="1.1"/>
<path d="M306 317.5h5M308.5 315v5" stroke="#7cff84" fill="none" shape-rendering="crispEdges"/>
<circle cx="312.0" cy="317.5" r="1.55" fill="none" stroke="#8cff74" stroke-width="1.1"/>
<circle cx="312.0" cy="316.5" r="1.55" fill="none" stroke="#86ff7a" stroke-width="1.1"/>
<circle cx="303.0" cy="322.0" r="1.55" fill="none" stroke="#81ff7f" stroke-width="1.1"/>
<path d="M306 314.5h5M308.5 312v5" stroke="#77ff89" fill="none" shape-rendering="crispEdges"/>
<circle cx="315.0" cy="311.5" r="1.55" fill="none" stroke="#83ff7d" stroke-width="1.1"/>
<circle cx="315.0" cy="331.0" r="1.55" fill="none" stroke="#96ff6a" stroke-width="1.1"/>
<path d="M301 315.5h5M303.5 313v5" stroke="#76ff8a" fill="none" shape-rendering="crispEdges"/>
<circle cx="317.5" cy="317.5" r="1.55" fill="none" stroke="#87ff78" stroke-width="1.1"/>
<circle cx="319.5" cy="325.0" r="1.55" fill="none" stroke="#94ff6c" stroke-width="1.1"/>
<circle cx="312.5" cy="325.0" r="1.55" fill="none" stroke="#8eff72" stroke-width="1.1"/>
<circle cx="310.5" cy="320.0" r="1.55" fill="none" stroke="#85ff7b" stroke-width="1.1"/>
<path d="M311 316.5h5M313.5 314v5" stroke="#7fff81" fill="none" shape-rendering="crispEdges"/>
<circle cx="317.0" cy="318.0" r="1.55" fill="none" stroke="#88ff78" stroke-width="1.1"/>
<circle cx="313.5" cy="314.0" r="1.55" fill="none" stroke="#82ff7e" stroke-width="1.1"/>
<circle cx="314.5" cy="317.5" r="1.55" fill="none" stroke="#84ff7c" stroke-width="1.1"/>
<path d="M303 311.5h5M305.5 309v5" stroke="#74ff8c" fill="none" shape-rendering="crispEdges"/>
<path d="M305 332.5h5M307.5 330v5" stroke="#76ff8a" fill="none" shape-rendering="crispEdges"/>
<path d="M322 310.5h5M324.5 308v5" stroke="#76ff8a" fill="none" shape-rendering="crispEdges"/>
<circle cx="316.0" cy="322.5" r="1.55" fill="none" stroke="#85ff7b" stroke-width="1.1"/>
<path d="M324 312.5h5M326.5 310v5" stroke="#76ff8a" fill="none" shape-rendering="crispEdges"/>
<circle cx="309.0" cy="320.0" r="1.55" fill="none" stroke="#85ff7b" stroke-width="1.1"/>
<circle cx="312.5" cy="319.0" r="1.55" fill="none" stroke="#85ff7b" stroke-width="1.1"/>
<path d="M304 310.5h5M306.5 308v5" stroke="#6aff95" fill="none" shape-rendering="crispEdges"/>
<path d="M309 315.5h5M311.5 313v5" stroke="#7aff86" fill="none" shape-rendering="crispEdges"/>
<path d="M315 305.5h5M317.5 303v5" stroke="#76ff8a" fill="none" shape-rendering="crispEdges"/>
<path d="M300 311.5h5M302.5 309v5" stroke="#67ff99" fill="none" shape-rendering="crispEdges"/>
<circle cx="309.0" cy="320.5" r="1.55" fill="none" stroke="#84ff7c" stroke-width="1.1"/>
<path d="M328 325.5h5M330.5 323v5" stroke="#76ff8a" fill="none" shape-rendering="crispEdges"/>
<circle cx="311.0" cy="323.0" r="1.55" fill="none" stroke="#8eff72" stroke-width="1.1"/>
<circle cx="321.5" cy="331.0" r="1.55" fill="none" stroke="#a3ff5c" stroke-width="1.1"/>
<circle cx="307.0" cy="325.0" r="1.55" fill="none" stroke="#83ff7d" stroke-width="1.1"/>
<path d="M301 308.5h5M303.5 306v5" stroke="#67ff98" fill="none" shape-rendering="crispEdges"/>
<circle cx="311.0" cy="318.5" r="1.55" fill="none" stroke="#80ff80" stroke-width="1.1"/>
<path d="M301 313.5h5M303.5 311v5" stroke="#72ff8d" fill="none" shape-rendering="crispEdges"/>
<circle cx="323.0" cy="321.0" r="1.55" fill="none" stroke="#8eff71" stroke-width="1.1"/>
<circle cx="315.5" cy="323.0" r="1.55" fill="none" stroke="#8dff72" stroke-width="1.1"/>
<circle cx="316.5" cy="315.5" r="1.55" fill="none" stroke="#88ff78" stroke-width="1.1"/>
<circle cx="336.0" cy="323.5" r="1.55" fill="none" stroke="#aeff52" stroke-width="1.1"/>
<path d="M296 308.5h5M298.5 306v5" stroke="#69ff97" fill="none" shape-rendering="crispEdges"/>
<circle cx="305.5" cy="313.5" r="1.55" fill="none" stroke="#80ff80" stroke-width="1.1"/>
<circle cx="312.0" cy="318.0" r="1.55" fill="none" stroke="#89ff77" stroke-width="1.1"/>
<circle cx="314.5" cy="311.0" r="1.55" fill="none" stroke="#87ff79" stroke-width="1.1"/>
<path d="M329 317.5h5M331.5 315v5" stroke="#76ff8a" fill="none" shape-rendering="crispEdges"/>
<circle cx="315.0" cy="320.5" r="1.55" fill="none" stroke="#97ff68" stroke-width="1.1"/>
<circle cx="310.5" cy="323.5" r="1.55" fill="none" stroke="#86ff7a" stroke-width="1.1"/>
<circle cx="311.5" cy="310.5" r="1.55" fill="none" stroke="#83ff7d" stroke-width="1.1"/>
<circle cx="318.0" cy="321.5" r="1.55" fill="none" stroke="#90ff70" stroke-width="1.1"/>
<path d="M301 306.5h5M303.5 304v5" stroke="#61ff9f" fill="none" shape-rendering="crispEdges"/>
<path d="M299 315.5h5M301.5 313v5" stroke="#6dff92" fill="none" shape-rendering="crispEdges"/>
<path d="M309 315.5h5M311.5 313v5" stroke="#7fff81" fill="none" shape-rendering="crispEdges"/>
<circle cx="313.0" cy="320.5" r="1.55" fill="none" stroke="#85ff7b" stroke-width="1.1"/>
<path d="M309 301.5h5M311.5 299v5" stroke="#69ff96" fill="none" shape-rendering="crispEdges"/>
<circle cx="320.5" cy="317.0" r="1.55" fill="none" stroke="#86ff7a" stroke-width="1.1"/>
<circle cx="316.5" cy="314.5" r="1.55" fill="none" stroke="#85ff7b" stroke-width="1.1"/>
<path d="M301 311.5h5M303.5 309v5" stroke="#6cff94" fill="none" shape-rendering="crispEdges"/>
<circle cx="318.5" cy="318.5" r="1.55" fill="none" stroke="#8eff72" stroke-width="1.1"/>
<path d="M304 311.5h5M306.5 309v5" stroke="#76ff8a" fill="none" shape-rendering="crispEdges"/>
<path d="M304 321.5h5M306.5 319v5" stroke="#7dff83" fill="none" shape-rendering="crispEdges"/>
<circle cx="318.5" cy="324.5" r="1.55" fill="none" stroke="#93ff6c" stroke-width="1.1"/>
<circle cx="309.5" cy="325.0" r="1.55" fill="none" stroke="#84ff7c" stroke-width="1.1"/>
<circle cx="312.5" cy="313.5" r="1.55" fill="none" stroke="#86ff7a" stroke-width="1.1"/>
<path d="M305 310.5h5M307.5 308v5" stroke="#73ff8d" fill="none" shape-rendering="crispEdges"/>
<circle cx="311.5" cy="322.0" r="1.55" fill="none" stroke="#8bff75" stroke-width="1.1"/>
<path d="M306 314.5h5M308.5 312v5" stroke="#7cff84" fill="none" shape-rendering="crispEdges"/>
<path d="M301 314.5h5M303.5 312v5" stroke="#75ff8b" fill="none" shape-rendering="crispEdges"/>
<circle cx="311.0" cy="322.5" r="1.55" fill="none" stroke="#8eff72" stroke-width="1.1"/>
<circle cx="314.5" cy="319.5" r="1.55" fill="none" stroke="#8eff72" stroke-width="1.1"/>
<circle cx="311.5" cy="321.0" r="1.55" fill="none" stroke="#88ff77" stroke-width="1.1"/>
<circle cx="317.0" cy="312.0" r="1.55" fill="none" stroke="#83ff7d" stroke-width="1.1"/>
<circle cx="317.0" cy="318.0" r="1.55" fill="none" stroke="#8dff73" stroke-width="1.1"/>
<path d="M309 311.5h5M311.5 309v5" stroke="#77ff89" fill="none" shape-rendering="crispEdges"/>
<circle cx="316.5" cy="307.5" r="1.55" fill="none" stroke="#80ff80" stroke-width="1.1"/>
<path d="M300 302.5h5M302.5 300v5" stroke="#61ff9f" fill="none" shape-rendering="crispEdges"/>
<path d="M309 309.5h5M311.5 307v5" stroke="#7dff83" fill="none" shape-rendering="crispEdges"/>
<circle cx="313.5" cy="314.0" r="1.55" fill="none" stroke="#85ff7b" stroke-width="1.1"/>
<circle cx="356.8" cy="277.0" r="1.55" fill="none" stroke="#fbea00" stroke-width="1.15"/>
<circle cx="362.8" cy="281.8" r="1.55" fill="none" stroke="#fbea00" stroke-width="1.15"/>
<circle cx="363.8" cy="270.8" r="1.55" fill="none" stroke="#fbea00" stroke-width="1.15"/>
<circle cx="368.8" cy="264.8" r="1.55" fill="none" stroke="#fbea00" stroke-width="1.15"/>
<circle cx="368.8" cy="272.8" r="1.55" fill="none" stroke="#fbea00" stroke-width="1.15"/>
<circle cx="372.8" cy="267.8" r="1.55" fill="none" stroke="#fbea00" stroke-width="1.15"/>
<circle cx="378.8" cy="263.8" r="1.55" fill="none" stroke="#fbea00" stroke-width="1.15"/>
<circle cx="379.8" cy="273.8" r="1.55" fill="none" stroke="#fbea00" stroke-width="1.15"/>
<circle cx="381.8" cy="257.8" r="1.55" fill="none" stroke="#fbea00" stroke-width="1.15"/>
<circle cx="381.8" cy="267.8" r="1.55" fill="none" stroke="#fbea00" stroke-width="1.15"/>
<circle cx="382.8" cy="264.8" r="1.55" fill="none" stroke="#fbea00" stroke-width="1.15"/>
<circle cx="383.8" cy="262.8" r="1.55" fill="none" stroke="#fbea00" stroke-width="1.15"/>
<circle cx="386.8" cy="261.8" r="1.55" fill="none" stroke="#fbea00" stroke-width="1.15"/>
<circle cx="385.8" cy="280.8" r="1.55" fill="none" stroke="#fbea00" stroke-width="1.15"/>
<circle cx="388.8" cy="265.8" r="1.55" fill="none" stroke="#fbea00" stroke-width="1.15"/>
<circle cx="389.8" cy="273.8" r="1.55" fill="none" stroke="#fbea00" stroke-width="1.15"/>
<circle cx="390.8" cy="262.8" r="1.55" fill="none" stroke="#fbea00" stroke-width="1.15"/>
<circle cx="391.8" cy="265.8" r="1.55" fill="none" stroke="#fbea00" stroke-width="1.15"/>
<circle cx="392.8" cy="256.8" r="1.55" fill="none" stroke="#fbea00" stroke-width="1.15"/>
<circle cx="393.8" cy="265.8" r="1.55" fill="none" stroke="#fbea00" stroke-width="1.15"/>
<circle cx="394.8" cy="268.8" r="1.55" fill="none" stroke="#fbea00" stroke-width="1.15"/>
<circle cx="399.8" cy="262.8" r="1.55" fill="none" stroke="#fbea00" stroke-width="1.15"/>
<circle cx="404.8" cy="265.8" r="1.55" fill="none" stroke="#fbea00" stroke-width="1.15"/>
<circle cx="410.8" cy="259.8" r="1.55" fill="none" stroke="#fbea00" stroke-width="1.15"/>
<circle cx="382.0" cy="265.0" r="1.55" fill="none" stroke="#fbea00" stroke-width="1.15"/>
<circle cx="383.0" cy="264.0" r="1.55" fill="none" stroke="#fbea00" stroke-width="1.15"/>
<circle cx="382.0" cy="266.0" r="1.55" fill="none" stroke="#fbea00" stroke-width="1.15"/>
<polyline points="288,143 305,148.5 288,156" fill="none" stroke="#cfcfcf" stroke-width="1" stroke-opacity="1"/>
<polyline points="308,473 325,478.5 308,486" fill="none" stroke="#cfcfcf" stroke-width="1" stroke-opacity="1"/>
<polyline points="299,308 316,313.5 299,321" fill="none" stroke="#cfcfcf" stroke-width="1" stroke-opacity="0.75"/>
<text class="lab" x="281.2" y="56.6" textLength="35" lengthAdjust="spacingAndGlyphs">North</text>
<text class="lab" x="281.3" y="577.8" textLength="35.2" lengthAdjust="spacingAndGlyphs">South</text>
<text class="lab" x="16" y="317.8" textLength="27.4" lengthAdjust="spacingAndGlyphs">West</text>
<text class="lab" x="551.9" y="317.8" textLength="27.4" lengthAdjust="spacingAndGlyphs">East</text>
<text class="hb" x="399.4" y="19" xml:space="preserve">STATION NAME    YYYY DATE  DDD HHMMSS AXN PPS IGP</text>
<text class="hb" x="399.4" y="36" xml:space="preserve">Louisvale       2016 May03 124 083730 417 100 -8D</text>
<text class="tb" x="594.4" y="71" xml:space="preserve">Num of Sources           497</text>
<text class="tb" x="594.4" y="85" xml:space="preserve">Min Freq, kHz           6000</text>
<text class="tb" x="594.4" y="99" xml:space="preserve">Max Freq, kHz           6350</text>
<text class="tb" x="594.4" y="113" xml:space="preserve">Min Range, km            250</text>
<text class="tb" x="594.4" y="127" xml:space="preserve">Max Range, km            257</text>
<text class="tb" x="594.4" y="141" xml:space="preserve">Max Amp, dB               70</text>
<text class="tb" x="594.4" y="155" xml:space="preserve">Max SNR Amp, dB           48</text>
<text class="tb" x="594.4" y="169" xml:space="preserve">Min SNR Amp, dB           12</text>
<text class="tb" x="594.4" y="183" xml:space="preserve">Avg SNR Amp, dB           28</text>
<text class="tb" x="594.4" y="197" xml:space="preserve">Max RMS Err, deg        12.0</text>
<text class="tb" x="594.4" y="211" xml:space="preserve">Min RMS Err, deg         0.0</text>
<text class="tb" x="594.4" y="225" xml:space="preserve">Avg RMS Err, deg         2.4</text>
<text class="tb" x="594.4" y="239" xml:space="preserve">Doppler Res, Hz       0.0488</text>
<text class="tb" x="594.4" y="253" xml:space="preserve">CIT, sec               20.48</text>
<text class="tb" x="594.4" y="267" xml:space="preserve">Num of CITs                4</text>
<text class="tb" x="594.4" y="281" xml:space="preserve">Polarization          O-mode</text>
<text class="tb" x="594.4" y="295" xml:space="preserve">Center of Sources, deg:     </text>
<text class="tb" x="594.4" y="309" xml:space="preserve">          Zenith         2.8</text>
<text class="tb" x="594.4" y="323" xml:space="preserve">          Azimuth        279</text>
<path d="M725.6 320.3 C726 317.2 722.6 316.6 722.2 319.6" fill="none" stroke="#222" stroke-width="1"/>
<path d="M720.2 318.9 L723.8 319.4 L721.9 321.6 Z" fill="#000"/>
<rect x="593" y="341" width="15" height="1" fill="rgb(0,0,195)" shape-rendering="crispEdges"/>
<rect x="593" y="342" width="15" height="1" fill="rgb(0,0,199)" shape-rendering="crispEdges"/>
<rect x="593" y="343" width="15" height="1" fill="rgb(0,0,203)" shape-rendering="crispEdges"/>
<rect x="593" y="344" width="15" height="1" fill="rgb(0,0,207)" shape-rendering="crispEdges"/>
<rect x="593" y="345" width="15" height="1" fill="rgb(0,0,211)" shape-rendering="crispEdges"/>
<rect x="593" y="346" width="15" height="1" fill="rgb(0,0,215)" shape-rendering="crispEdges"/>
<rect x="593" y="347" width="15" height="1" fill="rgb(0,0,219)" shape-rendering="crispEdges"/>
<rect x="593" y="348" width="15" height="1" fill="rgb(0,0,222)" shape-rendering="crispEdges"/>
<rect x="593" y="349" width="15" height="1" fill="rgb(0,0,226)" shape-rendering="crispEdges"/>
<rect x="593" y="350" width="15" height="1" fill="rgb(0,0,230)" shape-rendering="crispEdges"/>
<rect x="593" y="351" width="15" height="1" fill="rgb(0,0,234)" shape-rendering="crispEdges"/>
<rect x="593" y="352" width="15" height="1" fill="rgb(0,0,238)" shape-rendering="crispEdges"/>
<rect x="593" y="353" width="15" height="1" fill="rgb(0,0,242)" shape-rendering="crispEdges"/>
<rect x="593" y="354" width="15" height="1" fill="rgb(0,0,246)" shape-rendering="crispEdges"/>
<rect x="593" y="355" width="15" height="1" fill="rgb(0,0,250)" shape-rendering="crispEdges"/>
<rect x="593" y="356" width="15" height="1" fill="rgb(0,0,253)" shape-rendering="crispEdges"/>
<rect x="593" y="357" width="15" height="1" fill="rgb(0,2,255)" shape-rendering="crispEdges"/>
<rect x="593" y="358" width="15" height="1" fill="rgb(0,6,255)" shape-rendering="crispEdges"/>
<rect x="593" y="359" width="15" height="1" fill="rgb(0,10,255)" shape-rendering="crispEdges"/>
<rect x="593" y="360" width="15" height="1" fill="rgb(0,13,255)" shape-rendering="crispEdges"/>
<rect x="593" y="361" width="15" height="1" fill="rgb(0,17,255)" shape-rendering="crispEdges"/>
<rect x="593" y="362" width="15" height="1" fill="rgb(0,21,255)" shape-rendering="crispEdges"/>
<rect x="593" y="363" width="15" height="1" fill="rgb(0,25,255)" shape-rendering="crispEdges"/>
<rect x="593" y="364" width="15" height="1" fill="rgb(0,28,255)" shape-rendering="crispEdges"/>
<rect x="593" y="365" width="15" height="1" fill="rgb(0,32,255)" shape-rendering="crispEdges"/>
<rect x="593" y="366" width="15" height="1" fill="rgb(0,36,255)" shape-rendering="crispEdges"/>
<rect x="593" y="367" width="15" height="1" fill="rgb(0,39,255)" shape-rendering="crispEdges"/>
<rect x="593" y="368" width="15" height="1" fill="rgb(0,43,255)" shape-rendering="crispEdges"/>
<rect x="593" y="369" width="15" height="1" fill="rgb(0,47,255)" shape-rendering="crispEdges"/>
<rect x="593" y="370" width="15" height="1" fill="rgb(0,51,255)" shape-rendering="crispEdges"/>
<rect x="593" y="371" width="15" height="1" fill="rgb(0,54,255)" shape-rendering="crispEdges"/>
<rect x="593" y="372" width="15" height="1" fill="rgb(0,58,255)" shape-rendering="crispEdges"/>
<rect x="593" y="373" width="15" height="1" fill="rgb(0,62,255)" shape-rendering="crispEdges"/>
<rect x="593" y="374" width="15" height="1" fill="rgb(0,65,255)" shape-rendering="crispEdges"/>
<rect x="593" y="375" width="15" height="1" fill="rgb(0,69,255)" shape-rendering="crispEdges"/>
<rect x="593" y="376" width="15" height="1" fill="rgb(0,73,255)" shape-rendering="crispEdges"/>
<rect x="593" y="377" width="15" height="1" fill="rgb(0,77,255)" shape-rendering="crispEdges"/>
<rect x="593" y="378" width="15" height="1" fill="rgb(0,80,255)" shape-rendering="crispEdges"/>
<rect x="593" y="379" width="15" height="1" fill="rgb(0,84,255)" shape-rendering="crispEdges"/>
<rect x="593" y="380" width="15" height="1" fill="rgb(0,88,255)" shape-rendering="crispEdges"/>
<rect x="593" y="381" width="15" height="1" fill="rgb(0,91,255)" shape-rendering="crispEdges"/>
<rect x="593" y="382" width="15" height="1" fill="rgb(0,95,255)" shape-rendering="crispEdges"/>
<rect x="593" y="383" width="15" height="1" fill="rgb(0,99,255)" shape-rendering="crispEdges"/>
<rect x="593" y="384" width="15" height="1" fill="rgb(0,103,255)" shape-rendering="crispEdges"/>
<rect x="593" y="385" width="15" height="1" fill="rgb(0,106,255)" shape-rendering="crispEdges"/>
<rect x="593" y="386" width="15" height="1" fill="rgb(0,110,255)" shape-rendering="crispEdges"/>
<rect x="593" y="387" width="15" height="1" fill="rgb(0,114,255)" shape-rendering="crispEdges"/>
<rect x="593" y="388" width="15" height="1" fill="rgb(0,118,255)" shape-rendering="crispEdges"/>
<rect x="593" y="389" width="15" height="1" fill="rgb(0,121,255)" shape-rendering="crispEdges"/>
<rect x="593" y="390" width="15" height="1" fill="rgb(0,125,255)" shape-rendering="crispEdges"/>
<rect x="593" y="391" width="15" height="1" fill="rgb(0,129,255)" shape-rendering="crispEdges"/>
<rect x="593" y="392" width="15" height="1" fill="rgb(0,132,255)" shape-rendering="crispEdges"/>
<rect x="593" y="393" width="15" height="1" fill="rgb(0,136,255)" shape-rendering="crispEdges"/>
<rect x="593" y="394" width="15" height="1" fill="rgb(0,140,255)" shape-rendering="crispEdges"/>
<rect x="593" y="395" width="15" height="1" fill="rgb(0,144,255)" shape-rendering="crispEdges"/>
<rect x="593" y="396" width="15" height="1" fill="rgb(0,147,255)" shape-rendering="crispEdges"/>
<rect x="593" y="397" width="15" height="1" fill="rgb(0,151,255)" shape-rendering="crispEdges"/>
<rect x="593" y="398" width="15" height="1" fill="rgb(0,155,255)" shape-rendering="crispEdges"/>
<rect x="593" y="399" width="15" height="1" fill="rgb(0,158,255)" shape-rendering="crispEdges"/>
<rect x="593" y="400" width="15" height="1" fill="rgb(0,162,255)" shape-rendering="crispEdges"/>
<rect x="593" y="401" width="15" height="1" fill="rgb(0,166,255)" shape-rendering="crispEdges"/>
<rect x="593" y="402" width="15" height="1" fill="rgb(0,170,255)" shape-rendering="crispEdges"/>
<rect x="593" y="403" width="15" height="1" fill="rgb(0,173,255)" shape-rendering="crispEdges"/>
<rect x="593" y="404" width="15" height="1" fill="rgb(0,177,255)" shape-rendering="crispEdges"/>
<rect x="593" y="405" width="15" height="1" fill="rgb(0,181,255)" shape-rendering="crispEdges"/>
<rect x="593" y="406" width="15" height="1" fill="rgb(0,184,255)" shape-rendering="crispEdges"/>
<rect x="593" y="407" width="15" height="1" fill="rgb(0,188,255)" shape-rendering="crispEdges"/>
<rect x="593" y="408" width="15" height="1" fill="rgb(0,192,255)" shape-rendering="crispEdges"/>
<rect x="593" y="409" width="15" height="1" fill="rgb(0,196,255)" shape-rendering="crispEdges"/>
<rect x="593" y="410" width="15" height="1" fill="rgb(0,199,255)" shape-rendering="crispEdges"/>
<rect x="593" y="411" width="15" height="1" fill="rgb(0,203,255)" shape-rendering="crispEdges"/>
<rect x="593" y="412" width="15" height="1" fill="rgb(0,207,255)" shape-rendering="crispEdges"/>
<rect x="593" y="413" width="15" height="1" fill="rgb(0,210,255)" shape-rendering="crispEdges"/>
<rect x="593" y="414" width="15" height="1" fill="rgb(0,214,255)" shape-rendering="crispEdges"/>
<rect x="593" y="415" width="15" height="1" fill="rgb(0,218,255)" shape-rendering="crispEdges"/>
<rect x="593" y="416" width="15" height="1" fill="rgb(0,222,255)" shape-rendering="crispEdges"/>
<rect x="593" y="417" width="15" height="1" fill="rgb(0,225,255)" shape-rendering="crispEdges"/>
<rect x="593" y="418" width="15" height="1" fill="rgb(0,229,255)" shape-rendering="crispEdges"/>
<rect x="593" y="419" width="15" height="1" fill="rgb(0,233,255)" shape-rendering="crispEdges"/>
<rect x="593" y="420" width="15" height="1" fill="rgb(0,237,255)" shape-rendering="crispEdges"/>
<rect x="593" y="421" width="15" height="1" fill="rgb(0,240,255)" shape-rendering="crispEdges"/>
<rect x="593" y="422" width="15" height="1" fill="rgb(0,244,255)" shape-rendering="crispEdges"/>
<rect x="593" y="423" width="15" height="1" fill="rgb(0,248,255)" shape-rendering="crispEdges"/>
<rect x="593" y="424" width="15" height="1" fill="rgb(0,251,255)" shape-rendering="crispEdges"/>
<rect x="593" y="425" width="15" height="1" fill="rgb(0,255,255)" shape-rendering="crispEdges"/>
<rect x="593" y="426" width="15" height="1" fill="rgb(4,255,251)" shape-rendering="crispEdges"/>
<rect x="593" y="427" width="15" height="1" fill="rgb(7,255,248)" shape-rendering="crispEdges"/>
<rect x="593" y="428" width="15" height="1" fill="rgb(11,255,244)" shape-rendering="crispEdges"/>
<rect x="593" y="429" width="15" height="1" fill="rgb(14,255,241)" shape-rendering="crispEdges"/>
<rect x="593" y="430" width="15" height="1" fill="rgb(18,255,237)" shape-rendering="crispEdges"/>
<rect x="593" y="431" width="15" height="1" fill="rgb(21,255,234)" shape-rendering="crispEdges"/>
<rect x="593" y="432" width="15" height="1" fill="rgb(25,255,230)" shape-rendering="crispEdges"/>
<rect x="593" y="433" width="15" height="1" fill="rgb(29,255,227)" shape-rendering="crispEdges"/>
<rect x="593" y="434" width="15" height="1" fill="rgb(32,255,223)" shape-rendering="crispEdges"/>
<rect x="593" y="435" width="15" height="1" fill="rgb(36,255,220)" shape-rendering="crispEdges"/>
<rect x="593" y="436" width="15" height="1" fill="rgb(39,255,216)" shape-rendering="crispEdges"/>
<rect x="593" y="437" width="15" height="1" fill="rgb(43,255,213)" shape-rendering="crispEdges"/>
<rect x="593" y="438" width="15" height="1" fill="rgb(46,255,209)" shape-rendering="crispEdges"/>
<rect x="593" y="439" width="15" height="1" fill="rgb(50,255,206)" shape-rendering="crispEdges"/>
<rect x="593" y="440" width="15" height="1" fill="rgb(53,255,202)" shape-rendering="crispEdges"/>
<rect x="593" y="441" width="15" height="1" fill="rgb(57,255,199)" shape-rendering="crispEdges"/>
<rect x="593" y="442" width="15" height="1" fill="rgb(60,255,195)" shape-rendering="crispEdges"/>
<rect x="593" y="443" width="15" height="1" fill="rgb(64,255,191)" shape-rendering="crispEdges"/>
<rect x="593" y="444" width="15" height="1" fill="rgb(68,255,188)" shape-rendering="crispEdges"/>
<rect x="593" y="445" width="15" height="1" fill="rgb(71,255,184)" shape-rendering="crispEdges"/>
<rect x="593" y="446" width="15" height="1" fill="rgb(75,255,181)" shape-rendering="crispEdges"/>
<rect x="593" y="447" width="15" height="1" fill="rgb(78,255,177)" shape-rendering="crispEdges"/>
<rect x="593" y="448" width="15" height="1" fill="rgb(82,255,174)" shape-rendering="crispEdges"/>
<rect x="593" y="449" width="15" height="1" fill="rgb(85,255,170)" shape-rendering="crispEdges"/>
<rect x="593" y="450" width="15" height="1" fill="rgb(89,255,167)" shape-rendering="crispEdges"/>
<rect x="593" y="451" width="15" height="1" fill="rgb(92,255,163)" shape-rendering="crispEdges"/>
<rect x="593" y="452" width="15" height="1" fill="rgb(96,255,160)" shape-rendering="crispEdges"/>
<rect x="593" y="453" width="15" height="1" fill="rgb(100,255,156)" shape-rendering="crispEdges"/>
<rect x="593" y="454" width="15" height="1" fill="rgb(103,255,153)" shape-rendering="crispEdges"/>
<rect x="593" y="455" width="15" height="1" fill="rgb(107,255,149)" shape-rendering="crispEdges"/>
<rect x="593" y="456" width="15" height="1" fill="rgb(110,255,146)" shape-rendering="crispEdges"/>
<rect x="593" y="457" width="15" height="1" fill="rgb(114,255,142)" shape-rendering="crispEdges"/>
<rect x="593" y="458" width="15" height="1" fill="rgb(117,255,139)" shape-rendering="crispEdges"/>
<rect x="593" y="459" width="15" height="1" fill="rgb(121,255,135)" shape-rendering="crispEdges"/>
<rect x="593" y="460" width="15" height="1" fill="rgb(124,255,132)" shape-rendering="crispEdges"/>
<rect x="593" y="461" width="15" height="1" fill="rgb(128,255,128)" shape-rendering="crispEdges"/>
<rect x="593" y="462" width="15" height="1" fill="rgb(132,255,124)" shape-rendering="crispEdges"/>
<rect x="593" y="463" width="15" height="1" fill="rgb(135,255,121)" shape-rendering="crispEdges"/>
<rect x="593" y="464" width="15" height="1" fill="rgb(139,255,117)" shape-rendering="crispEdges"/>
<rect x="593" y="465" width="15" height="1" fill="rgb(142,255,114)" shape-rendering="crispEdges"/>
<rect x="593" y="466" width="15" height="1" fill="rgb(146,255,110)" shape-rendering="crispEdges"/>
<rect x="593" y="467" width="15" height="1" fill="rgb(149,255,107)" shape-rendering="crispEdges"/>
<rect x="593" y="468" width="15" height="1" fill="rgb(153,255,103)" shape-rendering="crispEdges"/>
<rect x="593" y="469" width="15" height="1" fill="rgb(156,255,100)" shape-rendering="crispEdges"/>
<rect x="593" y="470" width="15" height="1" fill="rgb(160,255,96)" shape-rendering="crispEdges"/>
<rect x="593" y="471" width="15" height="1" fill="rgb(163,255,92)" shape-rendering="crispEdges"/>
<rect x="593" y="472" width="15" height="1" fill="rgb(167,255,89)" shape-rendering="crispEdges"/>
<rect x="593" y="473" width="15" height="1" fill="rgb(170,255,85)" shape-rendering="crispEdges"/>
<rect x="593" y="474" width="15" height="1" fill="rgb(174,255,82)" shape-rendering="crispEdges"/>
<rect x="593" y="475" width="15" height="1" fill="rgb(177,255,78)" shape-rendering="crispEdges"/>
<rect x="593" y="476" width="15" height="1" fill="rgb(181,255,75)" shape-rendering="crispEdges"/>
<rect x="593" y="477" width="15" height="1" fill="rgb(184,255,71)" shape-rendering="crispEdges"/>
<rect x="593" y="478" width="15" height="1" fill="rgb(188,255,68)" shape-rendering="crispEdges"/>
<rect x="593" y="479" width="15" height="1" fill="rgb(191,255,64)" shape-rendering="crispEdges"/>
<rect x="593" y="480" width="15" height="1" fill="rgb(195,255,60)" shape-rendering="crispEdges"/>
<rect x="593" y="481" width="15" height="1" fill="rgb(199,255,57)" shape-rendering="crispEdges"/>
<rect x="593" y="482" width="15" height="1" fill="rgb(202,255,53)" shape-rendering="crispEdges"/>
<rect x="593" y="483" width="15" height="1" fill="rgb(206,255,50)" shape-rendering="crispEdges"/>
<rect x="593" y="484" width="15" height="1" fill="rgb(209,255,46)" shape-rendering="crispEdges"/>
<rect x="593" y="485" width="15" height="1" fill="rgb(213,255,43)" shape-rendering="crispEdges"/>
<rect x="593" y="486" width="15" height="1" fill="rgb(216,255,39)" shape-rendering="crispEdges"/>
<rect x="593" y="487" width="15" height="1" fill="rgb(220,255,36)" shape-rendering="crispEdges"/>
<rect x="593" y="488" width="15" height="1" fill="rgb(223,255,32)" shape-rendering="crispEdges"/>
<rect x="593" y="489" width="15" height="1" fill="rgb(227,255,29)" shape-rendering="crispEdges"/>
<rect x="593" y="490" width="15" height="1" fill="rgb(230,255,25)" shape-rendering="crispEdges"/>
<rect x="593" y="491" width="15" height="1" fill="rgb(234,255,21)" shape-rendering="crispEdges"/>
<rect x="593" y="492" width="15" height="1" fill="rgb(237,255,18)" shape-rendering="crispEdges"/>
<rect x="593" y="493" width="15" height="1" fill="rgb(241,255,14)" shape-rendering="crispEdges"/>
<rect x="593" y="494" width="15" height="1" fill="rgb(244,255,11)" shape-rendering="crispEdges"/>
<rect x="593" y="495" width="15" height="1" fill="rgb(248,255,7)" shape-rendering="crispEdges"/>
<rect x="593" y="496" width="15" height="1" fill="rgb(251,255,4)" shape-rendering="crispEdges"/>
<rect x="593" y="497" width="15" height="1" fill="rgb(255,255,0)" shape-rendering="crispEdges"/>
<rect x="593" y="498" width="15" height="1" fill="rgb(255,251,0)" shape-rendering="crispEdges"/>
<rect x="593" y="499" width="15" height="1" fill="rgb(255,248,0)" shape-rendering="crispEdges"/>
<rect x="593" y="500" width="15" height="1" fill="rgb(255,244,0)" shape-rendering="crispEdges"/>
<rect x="593" y="501" width="15" height="1" fill="rgb(255,240,0)" shape-rendering="crispEdges"/>
<rect x="593" y="502" width="15" height="1" fill="rgb(255,237,0)" shape-rendering="crispEdges"/>
<rect x="593" y="503" width="15" height="1" fill="rgb(255,233,0)" shape-rendering="crispEdges"/>
<rect x="593" y="504" width="15" height="1" fill="rgb(255,229,0)" shape-rendering="crispEdges"/>
<rect x="593" y="505" width="15" height="1" fill="rgb(255,225,0)" shape-rendering="crispEdges"/>
<rect x="593" y="506" width="15" height="1" fill="rgb(255,222,0)" shape-rendering="crispEdges"/>
<rect x="593" y="507" width="15" height="1" fill="rgb(255,218,0)" shape-rendering="crispEdges"/>
<rect x="593" y="508" width="15" height="1" fill="rgb(255,214,0)" shape-rendering="crispEdges"/>
<rect x="593" y="509" width="15" height="1" fill="rgb(255,210,0)" shape-rendering="crispEdges"/>
<rect x="593" y="510" width="15" height="1" fill="rgb(255,207,0)" shape-rendering="crispEdges"/>
<rect x="593" y="511" width="15" height="1" fill="rgb(255,203,0)" shape-rendering="crispEdges"/>
<rect x="593" y="512" width="15" height="1" fill="rgb(255,199,0)" shape-rendering="crispEdges"/>
<rect x="593" y="513" width="15" height="1" fill="rgb(255,196,0)" shape-rendering="crispEdges"/>
<rect x="593" y="514" width="15" height="1" fill="rgb(255,192,0)" shape-rendering="crispEdges"/>
<rect x="593" y="515" width="15" height="1" fill="rgb(255,188,0)" shape-rendering="crispEdges"/>
<rect x="593" y="516" width="15" height="1" fill="rgb(255,184,0)" shape-rendering="crispEdges"/>
<rect x="593" y="517" width="15" height="1" fill="rgb(255,181,0)" shape-rendering="crispEdges"/>
<rect x="593" y="518" width="15" height="1" fill="rgb(255,177,0)" shape-rendering="crispEdges"/>
<rect x="593" y="519" width="15" height="1" fill="rgb(255,173,0)" shape-rendering="crispEdges"/>
<rect x="593" y="520" width="15" height="1" fill="rgb(255,170,0)" shape-rendering="crispEdges"/>
<rect x="593" y="521" width="15" height="1" fill="rgb(255,166,0)" shape-rendering="crispEdges"/>
<rect x="593" y="522" width="15" height="1" fill="rgb(255,162,0)" shape-rendering="crispEdges"/>
<rect x="593" y="523" width="15" height="1" fill="rgb(255,158,0)" shape-rendering="crispEdges"/>
<rect x="593" y="524" width="15" height="1" fill="rgb(255,155,0)" shape-rendering="crispEdges"/>
<rect x="593" y="525" width="15" height="1" fill="rgb(255,151,0)" shape-rendering="crispEdges"/>
<rect x="593" y="526" width="15" height="1" fill="rgb(255,147,0)" shape-rendering="crispEdges"/>
<rect x="593" y="527" width="15" height="1" fill="rgb(255,144,0)" shape-rendering="crispEdges"/>
<rect x="593" y="528" width="15" height="1" fill="rgb(255,140,0)" shape-rendering="crispEdges"/>
<rect x="593" y="529" width="15" height="1" fill="rgb(255,136,0)" shape-rendering="crispEdges"/>
<rect x="593" y="530" width="15" height="1" fill="rgb(255,132,0)" shape-rendering="crispEdges"/>
<rect x="593" y="531" width="15" height="1" fill="rgb(255,129,0)" shape-rendering="crispEdges"/>
<rect x="593" y="532" width="15" height="1" fill="rgb(255,125,0)" shape-rendering="crispEdges"/>
<rect x="593" y="533" width="15" height="1" fill="rgb(255,121,0)" shape-rendering="crispEdges"/>
<rect x="593" y="534" width="15" height="1" fill="rgb(255,118,0)" shape-rendering="crispEdges"/>
<rect x="593" y="535" width="15" height="1" fill="rgb(255,114,0)" shape-rendering="crispEdges"/>
<rect x="593" y="536" width="15" height="1" fill="rgb(255,110,0)" shape-rendering="crispEdges"/>
<rect x="593" y="537" width="15" height="1" fill="rgb(255,106,0)" shape-rendering="crispEdges"/>
<rect x="593" y="538" width="15" height="1" fill="rgb(255,103,0)" shape-rendering="crispEdges"/>
<rect x="593" y="539" width="15" height="1" fill="rgb(255,99,0)" shape-rendering="crispEdges"/>
<rect x="593" y="540" width="15" height="1" fill="rgb(255,95,0)" shape-rendering="crispEdges"/>
<rect x="593" y="541" width="15" height="1" fill="rgb(255,91,0)" shape-rendering="crispEdges"/>
<rect x="593" y="542" width="15" height="1" fill="rgb(255,88,0)" shape-rendering="crispEdges"/>
<rect x="593" y="543" width="15" height="1" fill="rgb(255,84,0)" shape-rendering="crispEdges"/>
<rect x="593" y="544" width="15" height="1" fill="rgb(255,80,0)" shape-rendering="crispEdges"/>
<rect x="593" y="545" width="15" height="1" fill="rgb(255,77,0)" shape-rendering="crispEdges"/>
<rect x="593" y="546" width="15" height="1" fill="rgb(255,73,0)" shape-rendering="crispEdges"/>
<rect x="593" y="547" width="15" height="1" fill="rgb(255,69,0)" shape-rendering="crispEdges"/>
<rect x="593" y="548" width="15" height="1" fill="rgb(255,65,0)" shape-rendering="crispEdges"/>
<rect x="593" y="549" width="15" height="1" fill="rgb(255,62,0)" shape-rendering="crispEdges"/>
<rect x="593" y="550" width="15" height="1" fill="rgb(255,58,0)" shape-rendering="crispEdges"/>
<rect x="593" y="551" width="15" height="1" fill="rgb(255,54,0)" shape-rendering="crispEdges"/>
<rect x="593" y="552" width="15" height="1" fill="rgb(255,51,0)" shape-rendering="crispEdges"/>
<rect x="593" y="553" width="15" height="1" fill="rgb(255,47,0)" shape-rendering="crispEdges"/>
<rect x="593" y="554" width="15" height="1" fill="rgb(255,43,0)" shape-rendering="crispEdges"/>
<rect x="593" y="555" width="15" height="1" fill="rgb(255,39,0)" shape-rendering="crispEdges"/>
<rect x="593" y="556" width="15" height="1" fill="rgb(255,36,0)" shape-rendering="crispEdges"/>
<rect x="593" y="557" width="15" height="1" fill="rgb(255,32,0)" shape-rendering="crispEdges"/>
<rect x="593" y="558" width="15" height="1" fill="rgb(255,28,0)" shape-rendering="crispEdges"/>
<rect x="593" y="559" width="15" height="1" fill="rgb(255,25,0)" shape-rendering="crispEdges"/>
<rect x="593" y="560" width="15" height="1" fill="rgb(255,21,0)" shape-rendering="crispEdges"/>
<rect x="593" y="561" width="15" height="1" fill="rgb(255,17,0)" shape-rendering="crispEdges"/>
<rect x="593" y="562" width="15" height="1" fill="rgb(255,13,0)" shape-rendering="crispEdges"/>
<rect x="593" y="563" width="15" height="1" fill="rgb(255,10,0)" shape-rendering="crispEdges"/>
<rect x="593" y="564" width="15" height="1" fill="rgb(255,6,0)" shape-rendering="crispEdges"/>
<rect x="593" y="565" width="15" height="1" fill="rgb(255,2,0)" shape-rendering="crispEdges"/>
<rect x="593" y="566" width="15" height="1" fill="rgb(253,0,0)" shape-rendering="crispEdges"/>
<rect x="593" y="567" width="15" height="1" fill="rgb(250,0,0)" shape-rendering="crispEdges"/>
<rect x="593" y="568" width="15" height="1" fill="rgb(246,0,0)" shape-rendering="crispEdges"/>
<rect x="593" y="569" width="15" height="1" fill="rgb(242,0,0)" shape-rendering="crispEdges"/>
<rect x="593" y="570" width="15" height="1" fill="rgb(238,0,0)" shape-rendering="crispEdges"/>
<rect x="593" y="571" width="15" height="1" fill="rgb(234,0,0)" shape-rendering="crispEdges"/>
<rect x="593" y="572" width="15" height="1" fill="rgb(230,0,0)" shape-rendering="crispEdges"/>
<rect x="593" y="573" width="15" height="1" fill="rgb(226,0,0)" shape-rendering="crispEdges"/>
<rect x="593" y="574" width="15" height="1" fill="rgb(222,0,0)" shape-rendering="crispEdges"/>
<rect x="593" y="575" width="15" height="1" fill="rgb(219,0,0)" shape-rendering="crispEdges"/>
<rect x="593" y="576" width="15" height="1" fill="rgb(215,0,0)" shape-rendering="crispEdges"/>
<rect x="593" y="577" width="15" height="1" fill="rgb(211,0,0)" shape-rendering="crispEdges"/>
<rect x="593" y="578" width="15" height="1" fill="rgb(207,0,0)" shape-rendering="crispEdges"/>
<rect x="593" y="579" width="15" height="1" fill="rgb(203,0,0)" shape-rendering="crispEdges"/>
<rect x="593" y="580" width="15" height="1" fill="rgb(199,0,0)" shape-rendering="crispEdges"/>
<rect x="593" y="581" width="15" height="1" fill="rgb(195,0,0)" shape-rendering="crispEdges"/>
<rect x="593" y="582" width="15" height="1" fill="rgb(191,0,0)" shape-rendering="crispEdges"/>
<rect x="608" y="341" width="1" height="242" fill="#000" shape-rendering="crispEdges"/>
<rect x="609" y="582" width="6" height="1" fill="#000" shape-rendering="crispEdges"/>
<rect x="609" y="578" width="6" height="1" fill="#000" shape-rendering="crispEdges"/>
<rect x="609" y="574" width="3" height="1" fill="#000" shape-rendering="crispEdges"/>
<rect x="609" y="570" width="3" height="1" fill="#000" shape-rendering="crispEdges"/>
<rect x="609" y="566" width="3" height="1" fill="#000" shape-rendering="crispEdges"/>
<rect x="609" y="562" width="3" height="1" fill="#000" shape-rendering="crispEdges"/>
<rect x="609" y="558" width="6" height="1" fill="#000" shape-rendering="crispEdges"/>
<rect x="609" y="554" width="3" height="1" fill="#000" shape-rendering="crispEdges"/>
<rect x="609" y="551" width="3" height="1" fill="#000" shape-rendering="crispEdges"/>
<rect x="609" y="547" width="3" height="1" fill="#000" shape-rendering="crispEdges"/>
<rect x="609" y="543" width="3" height="1" fill="#000" shape-rendering="crispEdges"/>
<rect x="609" y="539" width="6" height="1" fill="#000" shape-rendering="crispEdges"/>
<rect x="609" y="535" width="3" height="1" fill="#000" shape-rendering="crispEdges"/>
<rect x="609" y="531" width="3" height="1" fill="#000" shape-rendering="crispEdges"/>
<rect x="609" y="527" width="3" height="1" fill="#000" shape-rendering="crispEdges"/>
<rect x="609" y="523" width="3" height="1" fill="#000" shape-rendering="crispEdges"/>
<rect x="609" y="520" width="6" height="1" fill="#000" shape-rendering="crispEdges"/>
<rect x="609" y="516" width="3" height="1" fill="#000" shape-rendering="crispEdges"/>
<rect x="609" y="512" width="3" height="1" fill="#000" shape-rendering="crispEdges"/>
<rect x="609" y="508" width="3" height="1" fill="#000" shape-rendering="crispEdges"/>
<rect x="609" y="504" width="3" height="1" fill="#000" shape-rendering="crispEdges"/>
<rect x="609" y="500" width="6" height="1" fill="#000" shape-rendering="crispEdges"/>
<rect x="609" y="496" width="3" height="1" fill="#000" shape-rendering="crispEdges"/>
<rect x="609" y="492" width="3" height="1" fill="#000" shape-rendering="crispEdges"/>
<rect x="609" y="489" width="3" height="1" fill="#000" shape-rendering="crispEdges"/>
<rect x="609" y="485" width="3" height="1" fill="#000" shape-rendering="crispEdges"/>
<rect x="609" y="481" width="6" height="1" fill="#000" shape-rendering="crispEdges"/>
<rect x="609" y="477" width="3" height="1" fill="#000" shape-rendering="crispEdges"/>
<rect x="609" y="473" width="3" height="1" fill="#000" shape-rendering="crispEdges"/>
<rect x="609" y="469" width="3" height="1" fill="#000" shape-rendering="crispEdges"/>
<rect x="609" y="465" width="3" height="1" fill="#000" shape-rendering="crispEdges"/>
<rect x="609" y="461" width="6" height="1" fill="#000" shape-rendering="crispEdges"/>
<rect x="609" y="458" width="3" height="1" fill="#000" shape-rendering="crispEdges"/>
<rect x="609" y="454" width="3" height="1" fill="#000" shape-rendering="crispEdges"/>
<rect x="609" y="450" width="3" height="1" fill="#000" shape-rendering="crispEdges"/>
<rect x="609" y="446" width="3" height="1" fill="#000" shape-rendering="crispEdges"/>
<rect x="609" y="442" width="6" height="1" fill="#000" shape-rendering="crispEdges"/>
<rect x="609" y="438" width="3" height="1" fill="#000" shape-rendering="crispEdges"/>
<rect x="609" y="434" width="3" height="1" fill="#000" shape-rendering="crispEdges"/>
<rect x="609" y="431" width="3" height="1" fill="#000" shape-rendering="crispEdges"/>
<rect x="609" y="427" width="3" height="1" fill="#000" shape-rendering="crispEdges"/>
<rect x="609" y="423" width="6" height="1" fill="#000" shape-rendering="crispEdges"/>
<rect x="609" y="419" width="3" height="1" fill="#000" shape-rendering="crispEdges"/>
<rect x="609" y="415" width="3" height="1" fill="#000" shape-rendering="crispEdges"/>
<rect x="609" y="411" width="3" height="1" fill="#000" shape-rendering="crispEdges"/>
<rect x="609" y="407" width="3" height="1" fill="#000" shape-rendering="crispEdges"/>
<rect x="609" y="403" width="6" height="1" fill="#000" shape-rendering="crispEdges"/>
<rect x="609" y="400" width="3" height="1" fill="#000" shape-rendering="crispEdges"/>
<rect x="609" y="396" width="3" height="1" fill="#000" shape-rendering="crispEdges"/>
<rect x="609" y="392" width="3" height="1" fill="#000" shape-rendering="crispEdges"/>
<rect x="609" y="388" width="3" height="1" fill="#000" shape-rendering="crispEdges"/>
<rect x="609" y="384" width="6" height="1" fill="#000" shape-rendering="crispEdges"/>
<rect x="609" y="380" width="3" height="1" fill="#000" shape-rendering="crispEdges"/>
<rect x="609" y="376" width="3" height="1" fill="#000" shape-rendering="crispEdges"/>
<rect x="609" y="372" width="3" height="1" fill="#000" shape-rendering="crispEdges"/>
<rect x="609" y="369" width="3" height="1" fill="#000" shape-rendering="crispEdges"/>
<rect x="609" y="365" width="6" height="1" fill="#000" shape-rendering="crispEdges"/>
<rect x="609" y="361" width="3" height="1" fill="#000" shape-rendering="crispEdges"/>
<rect x="609" y="357" width="3" height="1" fill="#000" shape-rendering="crispEdges"/>
<rect x="609" y="353" width="3" height="1" fill="#000" shape-rendering="crispEdges"/>
<rect x="609" y="349" width="3" height="1" fill="#000" shape-rendering="crispEdges"/>
<rect x="609" y="345" width="6" height="1" fill="#000" shape-rendering="crispEdges"/>
<rect x="609" y="341" width="6" height="1" fill="#000" shape-rendering="crispEdges"/>
<text class="cb" x="617.6" y="345.2" textLength="18.1" lengthAdjust="spacingAndGlyphs">3.1</text>
<text class="cb" x="617.6" y="369.2" textLength="18.1" lengthAdjust="spacingAndGlyphs">2.5</text>
<text class="cb" x="617.6" y="388.2" textLength="18.1" lengthAdjust="spacingAndGlyphs">2.0</text>
<text class="cb" x="617.6" y="407.2" textLength="18.1" lengthAdjust="spacingAndGlyphs">1.5</text>
<text class="cb" x="617.6" y="427.2" textLength="18.1" lengthAdjust="spacingAndGlyphs">1.0</text>
<text class="cb" x="617.6" y="446.2" textLength="18.1" lengthAdjust="spacingAndGlyphs">0.5</text>
<text class="cb" x="617.6" y="465.2" textLength="7.1" lengthAdjust="spacingAndGlyphs">0</text>
<text class="cb" x="617.6" y="485.2" textLength="22.4" lengthAdjust="spacingAndGlyphs">-0.5</text>
<text class="cb" x="617.6" y="504.2" textLength="22.4" lengthAdjust="spacingAndGlyphs">-1.0</text>
<text class="cb" x="617.6" y="524.2" textLength="22.4" lengthAdjust="spacingAndGlyphs">-1.5</text>
<text class="cb" x="617.6" y="543.2" textLength="22.4" lengthAdjust="spacingAndGlyphs">-2.0</text>
<text class="cb" x="617.6" y="562.2" textLength="22.4" lengthAdjust="spacingAndGlyphs">-2.5</text>
<text class="cb" x="617.6" y="586.2" textLength="22.4" lengthAdjust="spacingAndGlyphs">-3.1</text>
<text class="cb" transform="translate(657.3,492.3) rotate(-90)" textLength="54" lengthAdjust="spacingAndGlyphs">Doppler, Hz</text>
<rect x="669" y="402" width="8" height="1" fill="#0000f0" shape-rendering="crispEdges"/><rect x="672" y="399" width="1" height="7" fill="#0000f0" shape-rendering="crispEdges"/>
<text class="cb" x="682.2" y="406" textLength="45.2" lengthAdjust="spacingAndGlyphs" style="fill:#0000f0;stroke:#0000f0">Positive</text>
<circle cx="673" cy="522.9" r="2.5" fill="none" stroke="#f00000" stroke-width="1.1"/>
<text class="cb" x="682.2" y="526" textLength="51.2" lengthAdjust="spacingAndGlyphs" style="fill:#f00000;stroke:#f00000">Negative</text>
<text class="sm" x="654.3" y="592.8" textLength="62.6" lengthAdjust="spacingAndGlyphs">ShowSkymap</text>
<text class="sm" x="720.6" y="592.8" textLength="22.9" lengthAdjust="spacingAndGlyphs">v 1.0</text>
<text class="sm" x="753.2" y="592.8" textLength="39.8" lengthAdjust="spacingAndGlyphs">SD v 5.1</text>
<text class="it" x="11.2" y="572" xml:space="preserve">V</text>
<text class="tb" x="19" y="576" style="font-size:10.8px">h</text>
<text class="it" x="32.2" y="572" xml:space="preserve">= 53 ± 38</text>
<text class="tb" x="102.4" y="572">m/s</text>
<text class="it" x="11.2" y="592.4" xml:space="preserve" style="letter-spacing:-0.16px">Geographic coordinates</text>
<text class="it" x="473.4" y="572" xml:space="preserve">V</text>
<text class="tb" x="481.2" y="576" style="font-size:10.8px">z</text>
<text class="it" x="494.2" y="572" xml:space="preserve">= -4 ± 1</text>
<text class="tb" x="557.4" y="572">m/s</text>
<text class="it" x="418.8" y="592.4" xml:space="preserve">Zenith: max 40°</text>
<text class="it" x="533.8" y="592.4" xml:space="preserve">step 5</text>
<text class="it" x="575.4" y="592.4" xml:space="preserve">°</text>
</svg></body></html>
